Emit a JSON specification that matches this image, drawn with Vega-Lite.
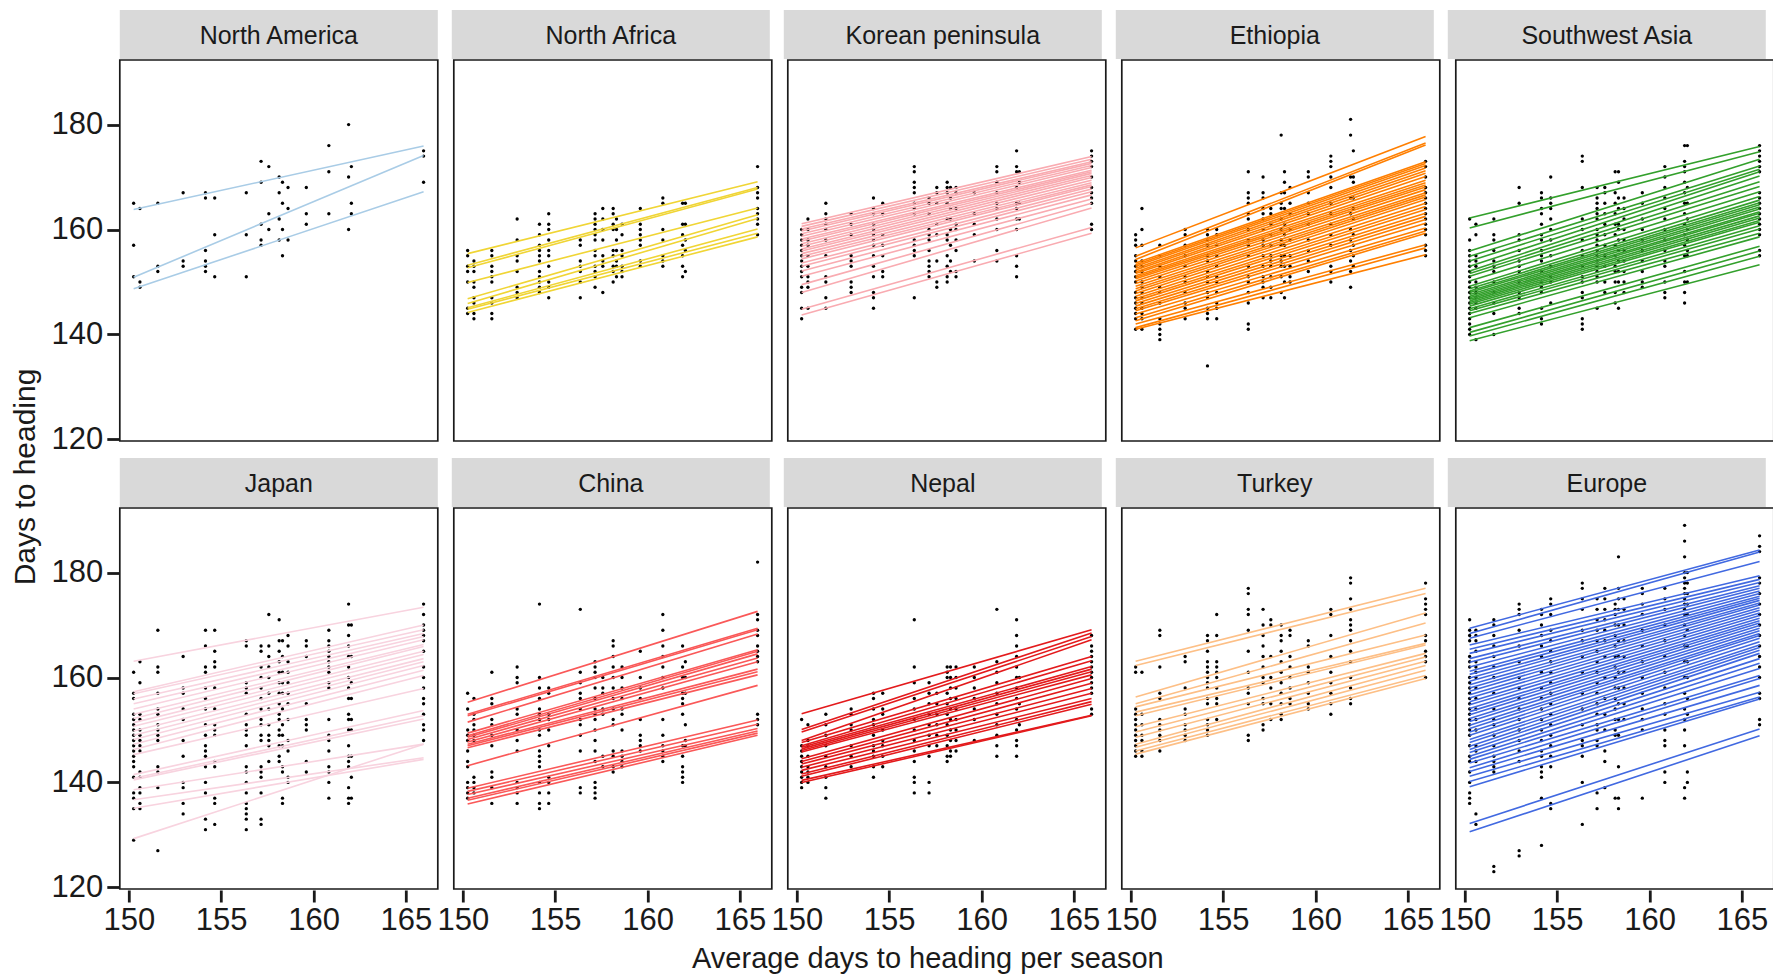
{
"$schema":"https://vega.github.io/schema/vega-lite/v6.json",
"background":"white",
"padding":{"left":10.8,"top":10,"right":0,"bottom":0},
"title":{"text":"Days to heading","orient":"left","anchor":"middle","fontSize":30,"fontWeight":"normal","font":"Liberation Sans","color":"#1a1a1a","offset":10,"dx":15},
"datasets":{
"s":[{"r":"NA","n":"North America"},{"r":"NF","n":"North Africa"},{"r":"KP","n":"Korean peninsula"},{"r":"ET","n":"Ethiopia"},{"r":"SW","n":"Southwest Asia"},{"r":"JP","n":"Japan"},{"r":"CN","n":"China"},{"r":"NP","n":"Nepal"},{"r":"TR","n":"Turkey"},{"r":"EU","n":"Europe"}],
"d":[
{"r":"NA","x":150.26,"y":165},{"r":"NA","x":150.26,"y":157},{"r":"NA","x":150.26,"y":151},
{"r":"NA","x":150.6,"y":164},{"r":"NA","x":150.6,"y":150},{"r":"NA","x":150.6,"y":149},
{"r":"NA","x":151.57,"y":165},{"r":"NA","x":151.57,"y":153},{"r":"NA","x":151.57,"y":152},
{"r":"NA","x":152.94,"y":167},{"r":"NA","x":152.94,"y":154},{"r":"NA","x":152.94,"y":153},
{"r":"NA","x":154.15,"y":167},{"r":"NA","x":154.15,"y":166},{"r":"NA","x":154.15,"y":156},{"r":"NA","x":154.15,"y":154},{"r":"NA","x":154.15,"y":153},{"r":"NA","x":154.15,"y":152},
{"r":"NA","x":154.65,"y":166},{"r":"NA","x":154.65,"y":159},{"r":"NA","x":154.65,"y":151},
{"r":"NA","x":156.36,"y":167},{"r":"NA","x":156.36,"y":159},{"r":"NA","x":156.36,"y":151},
{"r":"NA","x":157.16,"y":173},{"r":"NA","x":157.16,"y":169},{"r":"NA","x":157.16,"y":161},{"r":"NA","x":157.16,"y":158},{"r":"NA","x":157.16,"y":157},
{"r":"NA","x":157.58,"y":172},{"r":"NA","x":157.58,"y":163},{"r":"NA","x":157.58,"y":160},
{"r":"NA","x":158.14,"y":170},{"r":"NA","x":158.14,"y":167},{"r":"NA","x":158.14,"y":162},{"r":"NA","x":158.14,"y":158},
{"r":"NA","x":158.32,"y":169},{"r":"NA","x":158.32,"y":165},{"r":"NA","x":158.32,"y":160},{"r":"NA","x":158.32,"y":155},
{"r":"NA","x":158.62,"y":168},{"r":"NA","x":158.62,"y":164},{"r":"NA","x":158.62,"y":158},
{"r":"NA","x":159.61,"y":168},{"r":"NA","x":159.61,"y":163},{"r":"NA","x":159.61,"y":161},
{"r":"NA","x":160.83,"y":176},{"r":"NA","x":160.83,"y":171},{"r":"NA","x":160.83,"y":163},
{"r":"NA","x":161.9,"y":180},{"r":"NA","x":161.9,"y":170},{"r":"NA","x":161.9,"y":160},
{"r":"NA","x":162.05,"y":172},{"r":"NA","x":162.05,"y":165},{"r":"NA","x":162.05,"y":163},
{"r":"NA","x":165.96,"y":175},{"r":"NA","x":165.96,"y":174},{"r":"NA","x":165.96,"y":169},
{"r":"NF","x":150.26,"y":156},{"r":"NF","x":150.26,"y":155},{"r":"NF","x":150.26,"y":153},{"r":"NF","x":150.26,"y":152},{"r":"NF","x":150.26,"y":150},{"r":"NF","x":150.26,"y":145},{"r":"NF","x":150.26,"y":144},
{"r":"NF","x":150.6,"y":154},{"r":"NF","x":150.6,"y":153},{"r":"NF","x":150.6,"y":152},{"r":"NF","x":150.6,"y":150},{"r":"NF","x":150.6,"y":149},{"r":"NF","x":150.6,"y":147},{"r":"NF","x":150.6,"y":146},{"r":"NF","x":150.6,"y":144},{"r":"NF","x":150.6,"y":143},
{"r":"NF","x":151.57,"y":156},{"r":"NF","x":151.57,"y":155},{"r":"NF","x":151.57,"y":153},{"r":"NF","x":151.57,"y":152},{"r":"NF","x":151.57,"y":151},{"r":"NF","x":151.57,"y":150},{"r":"NF","x":151.57,"y":147},{"r":"NF","x":151.57,"y":146},{"r":"NF","x":151.57,"y":144},{"r":"NF","x":151.57,"y":143},
{"r":"NF","x":152.94,"y":162},{"r":"NF","x":152.94,"y":158},{"r":"NF","x":152.94,"y":155},{"r":"NF","x":152.94,"y":154},{"r":"NF","x":152.94,"y":152},{"r":"NF","x":152.94,"y":149},{"r":"NF","x":152.94,"y":148},{"r":"NF","x":152.94,"y":147},
{"r":"NF","x":154.15,"y":161},{"r":"NF","x":154.15,"y":159},{"r":"NF","x":154.15,"y":157},{"r":"NF","x":154.15,"y":156},{"r":"NF","x":154.15,"y":155},{"r":"NF","x":154.15,"y":154},{"r":"NF","x":154.15,"y":152},{"r":"NF","x":154.15,"y":151},{"r":"NF","x":154.15,"y":150},{"r":"NF","x":154.15,"y":149},{"r":"NF","x":154.15,"y":148},
{"r":"NF","x":154.65,"y":163},{"r":"NF","x":154.65,"y":161},{"r":"NF","x":154.65,"y":160},{"r":"NF","x":154.65,"y":158},{"r":"NF","x":154.65,"y":156},{"r":"NF","x":154.65,"y":155},{"r":"NF","x":154.65,"y":153},{"r":"NF","x":154.65,"y":150},{"r":"NF","x":154.65,"y":149},{"r":"NF","x":154.65,"y":147},
{"r":"NF","x":156.36,"y":158},{"r":"NF","x":156.36,"y":157},{"r":"NF","x":156.36,"y":154},{"r":"NF","x":156.36,"y":153},{"r":"NF","x":156.36,"y":152},{"r":"NF","x":156.36,"y":150},{"r":"NF","x":156.36,"y":147},
{"r":"NF","x":157.16,"y":163},{"r":"NF","x":157.16,"y":162},{"r":"NF","x":157.16,"y":161},{"r":"NF","x":157.16,"y":160},{"r":"NF","x":157.16,"y":159},{"r":"NF","x":157.16,"y":158},{"r":"NF","x":157.16,"y":156},{"r":"NF","x":157.16,"y":155},{"r":"NF","x":157.16,"y":153},{"r":"NF","x":157.16,"y":152},{"r":"NF","x":157.16,"y":151},{"r":"NF","x":157.16,"y":149},
{"r":"NF","x":157.58,"y":164},{"r":"NF","x":157.58,"y":162},{"r":"NF","x":157.58,"y":160},{"r":"NF","x":157.58,"y":158},{"r":"NF","x":157.58,"y":155},{"r":"NF","x":157.58,"y":154},{"r":"NF","x":157.58,"y":153},{"r":"NF","x":157.58,"y":148},
{"r":"NF","x":158.14,"y":164},{"r":"NF","x":158.14,"y":163},{"r":"NF","x":158.14,"y":161},{"r":"NF","x":158.14,"y":160},{"r":"NF","x":158.14,"y":156},{"r":"NF","x":158.14,"y":155},{"r":"NF","x":158.14,"y":153},{"r":"NF","x":158.14,"y":152},{"r":"NF","x":158.14,"y":150},
{"r":"NF","x":158.32,"y":162},{"r":"NF","x":158.32,"y":160},{"r":"NF","x":158.32,"y":158},{"r":"NF","x":158.32,"y":156},{"r":"NF","x":158.32,"y":154},{"r":"NF","x":158.32,"y":153},{"r":"NF","x":158.32,"y":151},
{"r":"NF","x":158.62,"y":161},{"r":"NF","x":158.62,"y":159},{"r":"NF","x":158.62,"y":156},{"r":"NF","x":158.62,"y":155},{"r":"NF","x":158.62,"y":153},{"r":"NF","x":158.62,"y":152},{"r":"NF","x":158.62,"y":151},
{"r":"NF","x":159.61,"y":164},{"r":"NF","x":159.61,"y":161},{"r":"NF","x":159.61,"y":160},{"r":"NF","x":159.61,"y":159},{"r":"NF","x":159.61,"y":158},{"r":"NF","x":159.61,"y":157},{"r":"NF","x":159.61,"y":154},{"r":"NF","x":159.61,"y":153},
{"r":"NF","x":160.83,"y":166},{"r":"NF","x":160.83,"y":165},{"r":"NF","x":160.83,"y":160},{"r":"NF","x":160.83,"y":158},{"r":"NF","x":160.83,"y":155},{"r":"NF","x":160.83,"y":154},{"r":"NF","x":160.83,"y":153},
{"r":"NF","x":161.9,"y":165},{"r":"NF","x":161.9,"y":161},{"r":"NF","x":161.9,"y":159},{"r":"NF","x":161.9,"y":157},{"r":"NF","x":161.9,"y":155},{"r":"NF","x":161.9,"y":153},{"r":"NF","x":161.9,"y":151},
{"r":"NF","x":162.05,"y":165},{"r":"NF","x":162.05,"y":161},{"r":"NF","x":162.05,"y":158},{"r":"NF","x":162.05,"y":156},{"r":"NF","x":162.05,"y":152},
{"r":"NF","x":165.96,"y":172},{"r":"NF","x":165.96,"y":168},{"r":"NF","x":165.96,"y":167},{"r":"NF","x":165.96,"y":166},{"r":"NF","x":165.96,"y":164},{"r":"NF","x":165.96,"y":163},{"r":"NF","x":165.96,"y":162},{"r":"NF","x":165.96,"y":161},{"r":"NF","x":165.96,"y":159},
{"r":"KP","x":150.26,"y":160},{"r":"KP","x":150.26,"y":159},{"r":"KP","x":150.26,"y":158},{"r":"KP","x":150.26,"y":157},{"r":"KP","x":150.26,"y":156},{"r":"KP","x":150.26,"y":155},{"r":"KP","x":150.26,"y":154},{"r":"KP","x":150.26,"y":153},{"r":"KP","x":150.26,"y":152},{"r":"KP","x":150.26,"y":151},{"r":"KP","x":150.26,"y":149},{"r":"KP","x":150.26,"y":148},{"r":"KP","x":150.26,"y":145},{"r":"KP","x":150.26,"y":143},
{"r":"KP","x":150.6,"y":162},{"r":"KP","x":150.6,"y":160},{"r":"KP","x":150.6,"y":158},{"r":"KP","x":150.6,"y":157},{"r":"KP","x":150.6,"y":155},{"r":"KP","x":150.6,"y":153},{"r":"KP","x":150.6,"y":151},{"r":"KP","x":150.6,"y":150},{"r":"KP","x":150.6,"y":149},{"r":"KP","x":150.6,"y":145},
{"r":"KP","x":151.57,"y":165},{"r":"KP","x":151.57,"y":163},{"r":"KP","x":151.57,"y":162},{"r":"KP","x":151.57,"y":161},{"r":"KP","x":151.57,"y":160},{"r":"KP","x":151.57,"y":158},{"r":"KP","x":151.57,"y":155},{"r":"KP","x":151.57,"y":151},{"r":"KP","x":151.57,"y":150},{"r":"KP","x":151.57,"y":147},{"r":"KP","x":151.57,"y":145},
{"r":"KP","x":152.94,"y":163},{"r":"KP","x":152.94,"y":161},{"r":"KP","x":152.94,"y":159},{"r":"KP","x":152.94,"y":155},{"r":"KP","x":152.94,"y":154},{"r":"KP","x":152.94,"y":153},{"r":"KP","x":152.94,"y":150},{"r":"KP","x":152.94,"y":149},{"r":"KP","x":152.94,"y":148},
{"r":"KP","x":154.15,"y":166},{"r":"KP","x":154.15,"y":164},{"r":"KP","x":154.15,"y":163},{"r":"KP","x":154.15,"y":161},{"r":"KP","x":154.15,"y":160},{"r":"KP","x":154.15,"y":159},{"r":"KP","x":154.15,"y":158},{"r":"KP","x":154.15,"y":157},{"r":"KP","x":154.15,"y":155},{"r":"KP","x":154.15,"y":153},{"r":"KP","x":154.15,"y":151},{"r":"KP","x":154.15,"y":148},{"r":"KP","x":154.15,"y":147},{"r":"KP","x":154.15,"y":145},
{"r":"KP","x":154.65,"y":165},{"r":"KP","x":154.65,"y":163},{"r":"KP","x":154.65,"y":159},{"r":"KP","x":154.65,"y":157},{"r":"KP","x":154.65,"y":155},{"r":"KP","x":154.65,"y":152},{"r":"KP","x":154.65,"y":151},
{"r":"KP","x":156.36,"y":172},{"r":"KP","x":156.36,"y":171},{"r":"KP","x":156.36,"y":169},{"r":"KP","x":156.36,"y":168},{"r":"KP","x":156.36,"y":167},{"r":"KP","x":156.36,"y":165},{"r":"KP","x":156.36,"y":164},{"r":"KP","x":156.36,"y":163},{"r":"KP","x":156.36,"y":158},{"r":"KP","x":156.36,"y":157},{"r":"KP","x":156.36,"y":156},{"r":"KP","x":156.36,"y":155},{"r":"KP","x":156.36,"y":147},
{"r":"KP","x":157.16,"y":166},{"r":"KP","x":157.16,"y":165},{"r":"KP","x":157.16,"y":163},{"r":"KP","x":157.16,"y":160},{"r":"KP","x":157.16,"y":159},{"r":"KP","x":157.16,"y":158},{"r":"KP","x":157.16,"y":156},{"r":"KP","x":157.16,"y":154},{"r":"KP","x":157.16,"y":153},{"r":"KP","x":157.16,"y":152},{"r":"KP","x":157.16,"y":151},
{"r":"KP","x":157.58,"y":168},{"r":"KP","x":157.58,"y":167},{"r":"KP","x":157.58,"y":165},{"r":"KP","x":157.58,"y":161},{"r":"KP","x":157.58,"y":159},{"r":"KP","x":157.58,"y":154},{"r":"KP","x":157.58,"y":150},{"r":"KP","x":157.58,"y":149},
{"r":"KP","x":158.14,"y":169},{"r":"KP","x":158.14,"y":168},{"r":"KP","x":158.14,"y":167},{"r":"KP","x":158.14,"y":165},{"r":"KP","x":158.14,"y":162},{"r":"KP","x":158.14,"y":159},{"r":"KP","x":158.14,"y":158},{"r":"KP","x":158.14,"y":155},{"r":"KP","x":158.14,"y":153},{"r":"KP","x":158.14,"y":151},{"r":"KP","x":158.14,"y":150},
{"r":"KP","x":158.32,"y":168},{"r":"KP","x":158.32,"y":166},{"r":"KP","x":158.32,"y":164},{"r":"KP","x":158.32,"y":162},{"r":"KP","x":158.32,"y":160},{"r":"KP","x":158.32,"y":157},{"r":"KP","x":158.32,"y":154},{"r":"KP","x":158.32,"y":152},
{"r":"KP","x":158.62,"y":168},{"r":"KP","x":158.62,"y":167},{"r":"KP","x":158.62,"y":164},{"r":"KP","x":158.62,"y":161},{"r":"KP","x":158.62,"y":160},{"r":"KP","x":158.62,"y":158},{"r":"KP","x":158.62,"y":156},{"r":"KP","x":158.62,"y":152},{"r":"KP","x":158.62,"y":151},
{"r":"KP","x":159.61,"y":167},{"r":"KP","x":159.61,"y":163},{"r":"KP","x":159.61,"y":161},{"r":"KP","x":159.61,"y":159},{"r":"KP","x":159.61,"y":154},
{"r":"KP","x":160.83,"y":172},{"r":"KP","x":160.83,"y":171},{"r":"KP","x":160.83,"y":169},{"r":"KP","x":160.83,"y":167},{"r":"KP","x":160.83,"y":165},{"r":"KP","x":160.83,"y":164},{"r":"KP","x":160.83,"y":162},{"r":"KP","x":160.83,"y":160},{"r":"KP","x":160.83,"y":156},{"r":"KP","x":160.83,"y":154},
{"r":"KP","x":161.9,"y":175},{"r":"KP","x":161.9,"y":172},{"r":"KP","x":161.9,"y":171},{"r":"KP","x":161.9,"y":168},{"r":"KP","x":161.9,"y":165},{"r":"KP","x":161.9,"y":164},{"r":"KP","x":161.9,"y":162},{"r":"KP","x":161.9,"y":160},{"r":"KP","x":161.9,"y":155},{"r":"KP","x":161.9,"y":153},{"r":"KP","x":161.9,"y":151},
{"r":"KP","x":162.05,"y":171},{"r":"KP","x":162.05,"y":169},{"r":"KP","x":162.05,"y":165},{"r":"KP","x":162.05,"y":162},
{"r":"KP","x":165.96,"y":175},{"r":"KP","x":165.96,"y":174},{"r":"KP","x":165.96,"y":173},{"r":"KP","x":165.96,"y":172},{"r":"KP","x":165.96,"y":170},{"r":"KP","x":165.96,"y":168},{"r":"KP","x":165.96,"y":167},{"r":"KP","x":165.96,"y":166},{"r":"KP","x":165.96,"y":165},{"r":"KP","x":165.96,"y":161},{"r":"KP","x":165.96,"y":160},
{"r":"ET","x":150.26,"y":159},{"r":"ET","x":150.26,"y":158},{"r":"ET","x":150.26,"y":157},{"r":"ET","x":150.26,"y":155},{"r":"ET","x":150.26,"y":154},{"r":"ET","x":150.26,"y":153},{"r":"ET","x":150.26,"y":152},{"r":"ET","x":150.26,"y":151},{"r":"ET","x":150.26,"y":150},{"r":"ET","x":150.26,"y":148},{"r":"ET","x":150.26,"y":147},{"r":"ET","x":150.26,"y":146},{"r":"ET","x":150.26,"y":145},{"r":"ET","x":150.26,"y":144},{"r":"ET","x":150.26,"y":143},{"r":"ET","x":150.26,"y":141},
{"r":"ET","x":150.6,"y":164},{"r":"ET","x":150.6,"y":160},{"r":"ET","x":150.6,"y":157},{"r":"ET","x":150.6,"y":154},{"r":"ET","x":150.6,"y":153},{"r":"ET","x":150.6,"y":152},{"r":"ET","x":150.6,"y":150},{"r":"ET","x":150.6,"y":149},{"r":"ET","x":150.6,"y":148},{"r":"ET","x":150.6,"y":147},{"r":"ET","x":150.6,"y":146},{"r":"ET","x":150.6,"y":145},{"r":"ET","x":150.6,"y":144},{"r":"ET","x":150.6,"y":143},{"r":"ET","x":150.6,"y":141},
{"r":"ET","x":151.57,"y":157},{"r":"ET","x":151.57,"y":155},{"r":"ET","x":151.57,"y":153},{"r":"ET","x":151.57,"y":151},{"r":"ET","x":151.57,"y":149},{"r":"ET","x":151.57,"y":148},{"r":"ET","x":151.57,"y":146},{"r":"ET","x":151.57,"y":143},{"r":"ET","x":151.57,"y":142},{"r":"ET","x":151.57,"y":141},{"r":"ET","x":151.57,"y":140},{"r":"ET","x":151.57,"y":139},
{"r":"ET","x":152.94,"y":160},{"r":"ET","x":152.94,"y":159},{"r":"ET","x":152.94,"y":157},{"r":"ET","x":152.94,"y":155},{"r":"ET","x":152.94,"y":153},{"r":"ET","x":152.94,"y":151},{"r":"ET","x":152.94,"y":150},{"r":"ET","x":152.94,"y":148},{"r":"ET","x":152.94,"y":146},{"r":"ET","x":152.94,"y":145},{"r":"ET","x":152.94,"y":143},
{"r":"ET","x":154.15,"y":160},{"r":"ET","x":154.15,"y":159},{"r":"ET","x":154.15,"y":158},{"r":"ET","x":154.15,"y":157},{"r":"ET","x":154.15,"y":155},{"r":"ET","x":154.15,"y":154},{"r":"ET","x":154.15,"y":152},{"r":"ET","x":154.15,"y":151},{"r":"ET","x":154.15,"y":150},{"r":"ET","x":154.15,"y":148},{"r":"ET","x":154.15,"y":147},{"r":"ET","x":154.15,"y":145},{"r":"ET","x":154.15,"y":144},{"r":"ET","x":154.15,"y":143},{"r":"ET","x":154.15,"y":134},
{"r":"ET","x":154.65,"y":160},{"r":"ET","x":154.65,"y":159},{"r":"ET","x":154.65,"y":157},{"r":"ET","x":154.65,"y":155},{"r":"ET","x":154.65,"y":153},{"r":"ET","x":154.65,"y":151},{"r":"ET","x":154.65,"y":150},{"r":"ET","x":154.65,"y":148},{"r":"ET","x":154.65,"y":146},{"r":"ET","x":154.65,"y":145},{"r":"ET","x":154.65,"y":143},
{"r":"ET","x":156.36,"y":171},{"r":"ET","x":156.36,"y":167},{"r":"ET","x":156.36,"y":166},{"r":"ET","x":156.36,"y":165},{"r":"ET","x":156.36,"y":163},{"r":"ET","x":156.36,"y":162},{"r":"ET","x":156.36,"y":160},{"r":"ET","x":156.36,"y":158},{"r":"ET","x":156.36,"y":157},{"r":"ET","x":156.36,"y":155},{"r":"ET","x":156.36,"y":153},{"r":"ET","x":156.36,"y":151},{"r":"ET","x":156.36,"y":150},{"r":"ET","x":156.36,"y":148},{"r":"ET","x":156.36,"y":146},{"r":"ET","x":156.36,"y":142},{"r":"ET","x":156.36,"y":141},
{"r":"ET","x":157.16,"y":170},{"r":"ET","x":157.16,"y":167},{"r":"ET","x":157.16,"y":166},{"r":"ET","x":157.16,"y":164},{"r":"ET","x":157.16,"y":163},{"r":"ET","x":157.16,"y":162},{"r":"ET","x":157.16,"y":160},{"r":"ET","x":157.16,"y":158},{"r":"ET","x":157.16,"y":157},{"r":"ET","x":157.16,"y":155},{"r":"ET","x":157.16,"y":153},{"r":"ET","x":157.16,"y":151},{"r":"ET","x":157.16,"y":150},{"r":"ET","x":157.16,"y":149},{"r":"ET","x":157.16,"y":147},
{"r":"ET","x":157.58,"y":164},{"r":"ET","x":157.58,"y":163},{"r":"ET","x":157.58,"y":161},{"r":"ET","x":157.58,"y":159},{"r":"ET","x":157.58,"y":157},{"r":"ET","x":157.58,"y":155},{"r":"ET","x":157.58,"y":154},{"r":"ET","x":157.58,"y":153},{"r":"ET","x":157.58,"y":151},{"r":"ET","x":157.58,"y":149},{"r":"ET","x":157.58,"y":147},
{"r":"ET","x":158.14,"y":178},{"r":"ET","x":158.14,"y":167},{"r":"ET","x":158.14,"y":165},{"r":"ET","x":158.14,"y":164},{"r":"ET","x":158.14,"y":162},{"r":"ET","x":158.14,"y":160},{"r":"ET","x":158.14,"y":158},{"r":"ET","x":158.14,"y":157},{"r":"ET","x":158.14,"y":155},{"r":"ET","x":158.14,"y":154},{"r":"ET","x":158.14,"y":153},{"r":"ET","x":158.14,"y":151},{"r":"ET","x":158.14,"y":148},
{"r":"ET","x":158.32,"y":171},{"r":"ET","x":158.32,"y":169},{"r":"ET","x":158.32,"y":167},{"r":"ET","x":158.32,"y":164},{"r":"ET","x":158.32,"y":161},{"r":"ET","x":158.32,"y":159},{"r":"ET","x":158.32,"y":157},{"r":"ET","x":158.32,"y":155},{"r":"ET","x":158.32,"y":153},{"r":"ET","x":158.32,"y":150},{"r":"ET","x":158.32,"y":147},
{"r":"ET","x":158.62,"y":168},{"r":"ET","x":158.62,"y":165},{"r":"ET","x":158.62,"y":163},{"r":"ET","x":158.62,"y":160},{"r":"ET","x":158.62,"y":158},{"r":"ET","x":158.62,"y":155},{"r":"ET","x":158.62,"y":153},{"r":"ET","x":158.62,"y":151},{"r":"ET","x":158.62,"y":150},
{"r":"ET","x":159.61,"y":171},{"r":"ET","x":159.61,"y":170},{"r":"ET","x":159.61,"y":167},{"r":"ET","x":159.61,"y":165},{"r":"ET","x":159.61,"y":163},{"r":"ET","x":159.61,"y":161},{"r":"ET","x":159.61,"y":158},{"r":"ET","x":159.61,"y":156},{"r":"ET","x":159.61,"y":154},{"r":"ET","x":159.61,"y":152},
{"r":"ET","x":160.83,"y":174},{"r":"ET","x":160.83,"y":173},{"r":"ET","x":160.83,"y":172},{"r":"ET","x":160.83,"y":170},{"r":"ET","x":160.83,"y":168},{"r":"ET","x":160.83,"y":165},{"r":"ET","x":160.83,"y":163},{"r":"ET","x":160.83,"y":161},{"r":"ET","x":160.83,"y":159},{"r":"ET","x":160.83,"y":157},{"r":"ET","x":160.83,"y":153},{"r":"ET","x":160.83,"y":152},{"r":"ET","x":160.83,"y":150},
{"r":"ET","x":161.9,"y":181},{"r":"ET","x":161.9,"y":178},{"r":"ET","x":161.9,"y":170},{"r":"ET","x":161.9,"y":166},{"r":"ET","x":161.9,"y":163},{"r":"ET","x":161.9,"y":160},{"r":"ET","x":161.9,"y":158},{"r":"ET","x":161.9,"y":156},{"r":"ET","x":161.9,"y":154},{"r":"ET","x":161.9,"y":152},{"r":"ET","x":161.9,"y":149},
{"r":"ET","x":162.05,"y":175},{"r":"ET","x":162.05,"y":170},{"r":"ET","x":162.05,"y":169},{"r":"ET","x":162.05,"y":166},{"r":"ET","x":162.05,"y":164},{"r":"ET","x":162.05,"y":162},{"r":"ET","x":162.05,"y":159},{"r":"ET","x":162.05,"y":157},{"r":"ET","x":162.05,"y":155},{"r":"ET","x":162.05,"y":153},
{"r":"ET","x":165.96,"y":173},{"r":"ET","x":165.96,"y":172},{"r":"ET","x":165.96,"y":170},{"r":"ET","x":165.96,"y":168},{"r":"ET","x":165.96,"y":167},{"r":"ET","x":165.96,"y":166},{"r":"ET","x":165.96,"y":165},{"r":"ET","x":165.96,"y":164},{"r":"ET","x":165.96,"y":163},{"r":"ET","x":165.96,"y":162},{"r":"ET","x":165.96,"y":161},{"r":"ET","x":165.96,"y":160},{"r":"ET","x":165.96,"y":159},{"r":"ET","x":165.96,"y":157},{"r":"ET","x":165.96,"y":156},{"r":"ET","x":165.96,"y":155},
{"r":"SW","x":150.26,"y":162},{"r":"SW","x":150.26,"y":158},{"r":"SW","x":150.26,"y":156},{"r":"SW","x":150.26,"y":155},{"r":"SW","x":150.26,"y":154},{"r":"SW","x":150.26,"y":153},{"r":"SW","x":150.26,"y":152},{"r":"SW","x":150.26,"y":151},{"r":"SW","x":150.26,"y":150},{"r":"SW","x":150.26,"y":149},{"r":"SW","x":150.26,"y":148},{"r":"SW","x":150.26,"y":147},{"r":"SW","x":150.26,"y":146},{"r":"SW","x":150.26,"y":145},{"r":"SW","x":150.26,"y":144},{"r":"SW","x":150.26,"y":143},{"r":"SW","x":150.26,"y":142},{"r":"SW","x":150.26,"y":141},{"r":"SW","x":150.26,"y":140},
{"r":"SW","x":150.6,"y":161},{"r":"SW","x":150.6,"y":159},{"r":"SW","x":150.6,"y":155},{"r":"SW","x":150.6,"y":154},{"r":"SW","x":150.6,"y":153},{"r":"SW","x":150.6,"y":150},{"r":"SW","x":150.6,"y":149},{"r":"SW","x":150.6,"y":148},{"r":"SW","x":150.6,"y":147},{"r":"SW","x":150.6,"y":146},{"r":"SW","x":150.6,"y":145},{"r":"SW","x":150.6,"y":139},
{"r":"SW","x":151.57,"y":162},{"r":"SW","x":151.57,"y":159},{"r":"SW","x":151.57,"y":158},{"r":"SW","x":151.57,"y":156},{"r":"SW","x":151.57,"y":154},{"r":"SW","x":151.57,"y":153},{"r":"SW","x":151.57,"y":152},{"r":"SW","x":151.57,"y":150},{"r":"SW","x":151.57,"y":148},{"r":"SW","x":151.57,"y":146},{"r":"SW","x":151.57,"y":144},{"r":"SW","x":151.57,"y":140},
{"r":"SW","x":152.94,"y":168},{"r":"SW","x":152.94,"y":165},{"r":"SW","x":152.94,"y":159},{"r":"SW","x":152.94,"y":158},{"r":"SW","x":152.94,"y":156},{"r":"SW","x":152.94,"y":154},{"r":"SW","x":152.94,"y":153},{"r":"SW","x":152.94,"y":152},{"r":"SW","x":152.94,"y":150},{"r":"SW","x":152.94,"y":148},{"r":"SW","x":152.94,"y":147},{"r":"SW","x":152.94,"y":145},{"r":"SW","x":152.94,"y":144},
{"r":"SW","x":154.15,"y":167},{"r":"SW","x":154.15,"y":166},{"r":"SW","x":154.15,"y":164},{"r":"SW","x":154.15,"y":163},{"r":"SW","x":154.15,"y":161},{"r":"SW","x":154.15,"y":159},{"r":"SW","x":154.15,"y":158},{"r":"SW","x":154.15,"y":156},{"r":"SW","x":154.15,"y":155},{"r":"SW","x":154.15,"y":154},{"r":"SW","x":154.15,"y":152},{"r":"SW","x":154.15,"y":150},{"r":"SW","x":154.15,"y":149},{"r":"SW","x":154.15,"y":148},{"r":"SW","x":154.15,"y":145},{"r":"SW","x":154.15,"y":143},{"r":"SW","x":154.15,"y":142},
{"r":"SW","x":154.65,"y":170},{"r":"SW","x":154.65,"y":166},{"r":"SW","x":154.65,"y":165},{"r":"SW","x":154.65,"y":164},{"r":"SW","x":154.65,"y":162},{"r":"SW","x":154.65,"y":160},{"r":"SW","x":154.65,"y":158},{"r":"SW","x":154.65,"y":155},{"r":"SW","x":154.65,"y":153},{"r":"SW","x":154.65,"y":151},{"r":"SW","x":154.65,"y":150},{"r":"SW","x":154.65,"y":146},
{"r":"SW","x":156.36,"y":174},{"r":"SW","x":156.36,"y":173},{"r":"SW","x":156.36,"y":168},{"r":"SW","x":156.36,"y":162},{"r":"SW","x":156.36,"y":160},{"r":"SW","x":156.36,"y":158},{"r":"SW","x":156.36,"y":156},{"r":"SW","x":156.36,"y":155},{"r":"SW","x":156.36,"y":153},{"r":"SW","x":156.36,"y":151},{"r":"SW","x":156.36,"y":150},{"r":"SW","x":156.36,"y":148},{"r":"SW","x":156.36,"y":147},{"r":"SW","x":156.36,"y":143},{"r":"SW","x":156.36,"y":142},{"r":"SW","x":156.36,"y":141},
{"r":"SW","x":157.16,"y":168},{"r":"SW","x":157.16,"y":166},{"r":"SW","x":157.16,"y":165},{"r":"SW","x":157.16,"y":164},{"r":"SW","x":157.16,"y":163},{"r":"SW","x":157.16,"y":162},{"r":"SW","x":157.16,"y":160},{"r":"SW","x":157.16,"y":159},{"r":"SW","x":157.16,"y":158},{"r":"SW","x":157.16,"y":157},{"r":"SW","x":157.16,"y":156},{"r":"SW","x":157.16,"y":155},{"r":"SW","x":157.16,"y":154},{"r":"SW","x":157.16,"y":153},{"r":"SW","x":157.16,"y":152},{"r":"SW","x":157.16,"y":151},{"r":"SW","x":157.16,"y":150},{"r":"SW","x":157.16,"y":145},
{"r":"SW","x":157.58,"y":168},{"r":"SW","x":157.58,"y":167},{"r":"SW","x":157.58,"y":165},{"r":"SW","x":157.58,"y":163},{"r":"SW","x":157.58,"y":161},{"r":"SW","x":157.58,"y":159},{"r":"SW","x":157.58,"y":157},{"r":"SW","x":157.58,"y":155},{"r":"SW","x":157.58,"y":153},{"r":"SW","x":157.58,"y":150},{"r":"SW","x":157.58,"y":148},
{"r":"SW","x":158.14,"y":171},{"r":"SW","x":158.14,"y":167},{"r":"SW","x":158.14,"y":165},{"r":"SW","x":158.14,"y":163},{"r":"SW","x":158.14,"y":161},{"r":"SW","x":158.14,"y":159},{"r":"SW","x":158.14,"y":157},{"r":"SW","x":158.14,"y":155},{"r":"SW","x":158.14,"y":153},{"r":"SW","x":158.14,"y":152},{"r":"SW","x":158.14,"y":150},{"r":"SW","x":158.14,"y":148},{"r":"SW","x":158.14,"y":146},
{"r":"SW","x":158.32,"y":171},{"r":"SW","x":158.32,"y":169},{"r":"SW","x":158.32,"y":166},{"r":"SW","x":158.32,"y":164},{"r":"SW","x":158.32,"y":161},{"r":"SW","x":158.32,"y":160},{"r":"SW","x":158.32,"y":158},{"r":"SW","x":158.32,"y":156},{"r":"SW","x":158.32,"y":154},{"r":"SW","x":158.32,"y":152},{"r":"SW","x":158.32,"y":150},{"r":"SW","x":158.32,"y":145},
{"r":"SW","x":158.62,"y":166},{"r":"SW","x":158.62,"y":164},{"r":"SW","x":158.62,"y":162},{"r":"SW","x":158.62,"y":160},{"r":"SW","x":158.62,"y":158},{"r":"SW","x":158.62,"y":156},{"r":"SW","x":158.62,"y":154},{"r":"SW","x":158.62,"y":152},{"r":"SW","x":158.62,"y":150},{"r":"SW","x":158.62,"y":148},
{"r":"SW","x":159.61,"y":167},{"r":"SW","x":159.61,"y":165},{"r":"SW","x":159.61,"y":162},{"r":"SW","x":159.61,"y":160},{"r":"SW","x":159.61,"y":158},{"r":"SW","x":159.61,"y":156},{"r":"SW","x":159.61,"y":154},{"r":"SW","x":159.61,"y":152},{"r":"SW","x":159.61,"y":150},{"r":"SW","x":159.61,"y":149},
{"r":"SW","x":160.83,"y":172},{"r":"SW","x":160.83,"y":170},{"r":"SW","x":160.83,"y":168},{"r":"SW","x":160.83,"y":166},{"r":"SW","x":160.83,"y":164},{"r":"SW","x":160.83,"y":162},{"r":"SW","x":160.83,"y":160},{"r":"SW","x":160.83,"y":158},{"r":"SW","x":160.83,"y":156},{"r":"SW","x":160.83,"y":154},{"r":"SW","x":160.83,"y":153},{"r":"SW","x":160.83,"y":150},{"r":"SW","x":160.83,"y":148},{"r":"SW","x":160.83,"y":147},
{"r":"SW","x":161.9,"y":176},{"r":"SW","x":161.9,"y":173},{"r":"SW","x":161.9,"y":172},{"r":"SW","x":161.9,"y":171},{"r":"SW","x":161.9,"y":169},{"r":"SW","x":161.9,"y":167},{"r":"SW","x":161.9,"y":165},{"r":"SW","x":161.9,"y":163},{"r":"SW","x":161.9,"y":161},{"r":"SW","x":161.9,"y":159},{"r":"SW","x":161.9,"y":157},{"r":"SW","x":161.9,"y":155},{"r":"SW","x":161.9,"y":152},{"r":"SW","x":161.9,"y":150},{"r":"SW","x":161.9,"y":148},{"r":"SW","x":161.9,"y":146},
{"r":"SW","x":162.05,"y":176},{"r":"SW","x":162.05,"y":168},{"r":"SW","x":162.05,"y":165},{"r":"SW","x":162.05,"y":162},{"r":"SW","x":162.05,"y":160},{"r":"SW","x":162.05,"y":158},{"r":"SW","x":162.05,"y":156},{"r":"SW","x":162.05,"y":155},{"r":"SW","x":162.05,"y":150},
{"r":"SW","x":165.96,"y":176},{"r":"SW","x":165.96,"y":175},{"r":"SW","x":165.96,"y":174},{"r":"SW","x":165.96,"y":173},{"r":"SW","x":165.96,"y":172},{"r":"SW","x":165.96,"y":171},{"r":"SW","x":165.96,"y":167},{"r":"SW","x":165.96,"y":166},{"r":"SW","x":165.96,"y":165},{"r":"SW","x":165.96,"y":164},{"r":"SW","x":165.96,"y":163},{"r":"SW","x":165.96,"y":162},{"r":"SW","x":165.96,"y":161},{"r":"SW","x":165.96,"y":160},{"r":"SW","x":165.96,"y":159},{"r":"SW","x":165.96,"y":156},{"r":"SW","x":165.96,"y":155},
{"r":"JP","x":150.26,"y":161},{"r":"JP","x":150.26,"y":157},{"r":"JP","x":150.26,"y":156},{"r":"JP","x":150.26,"y":153},{"r":"JP","x":150.26,"y":152},{"r":"JP","x":150.26,"y":151},{"r":"JP","x":150.26,"y":150},{"r":"JP","x":150.26,"y":149},{"r":"JP","x":150.26,"y":148},{"r":"JP","x":150.26,"y":147},{"r":"JP","x":150.26,"y":146},{"r":"JP","x":150.26,"y":145},{"r":"JP","x":150.26,"y":144},{"r":"JP","x":150.26,"y":143},{"r":"JP","x":150.26,"y":141},{"r":"JP","x":150.26,"y":138},{"r":"JP","x":150.26,"y":137},{"r":"JP","x":150.26,"y":135},{"r":"JP","x":150.26,"y":129},
{"r":"JP","x":150.6,"y":163},{"r":"JP","x":150.6,"y":159},{"r":"JP","x":150.6,"y":153},{"r":"JP","x":150.6,"y":152},{"r":"JP","x":150.6,"y":150},{"r":"JP","x":150.6,"y":149},{"r":"JP","x":150.6,"y":148},{"r":"JP","x":150.6,"y":147},{"r":"JP","x":150.6,"y":146},{"r":"JP","x":150.6,"y":142},{"r":"JP","x":150.6,"y":141},{"r":"JP","x":150.6,"y":139},{"r":"JP","x":150.6,"y":138},{"r":"JP","x":150.6,"y":136},{"r":"JP","x":150.6,"y":135},
{"r":"JP","x":151.57,"y":169},{"r":"JP","x":151.57,"y":162},{"r":"JP","x":151.57,"y":161},{"r":"JP","x":151.57,"y":157},{"r":"JP","x":151.57,"y":154},{"r":"JP","x":151.57,"y":153},{"r":"JP","x":151.57,"y":151},{"r":"JP","x":151.57,"y":150},{"r":"JP","x":151.57,"y":149},{"r":"JP","x":151.57,"y":148},{"r":"JP","x":151.57,"y":143},{"r":"JP","x":151.57,"y":142},{"r":"JP","x":151.57,"y":139},{"r":"JP","x":151.57,"y":127},
{"r":"JP","x":152.94,"y":164},{"r":"JP","x":152.94,"y":158},{"r":"JP","x":152.94,"y":157},{"r":"JP","x":152.94,"y":154},{"r":"JP","x":152.94,"y":152},{"r":"JP","x":152.94,"y":148},{"r":"JP","x":152.94,"y":145},{"r":"JP","x":152.94,"y":140},{"r":"JP","x":152.94,"y":139},{"r":"JP","x":152.94,"y":136},{"r":"JP","x":152.94,"y":134},
{"r":"JP","x":154.15,"y":169},{"r":"JP","x":154.15,"y":166},{"r":"JP","x":154.15,"y":162},{"r":"JP","x":154.15,"y":161},{"r":"JP","x":154.15,"y":158},{"r":"JP","x":154.15,"y":156},{"r":"JP","x":154.15,"y":154},{"r":"JP","x":154.15,"y":151},{"r":"JP","x":154.15,"y":149},{"r":"JP","x":154.15,"y":147},{"r":"JP","x":154.15,"y":146},{"r":"JP","x":154.15,"y":145},{"r":"JP","x":154.15,"y":143},{"r":"JP","x":154.15,"y":140},{"r":"JP","x":154.15,"y":138},{"r":"JP","x":154.15,"y":133},{"r":"JP","x":154.15,"y":131},
{"r":"JP","x":154.65,"y":169},{"r":"JP","x":154.65,"y":165},{"r":"JP","x":154.65,"y":163},{"r":"JP","x":154.65,"y":162},{"r":"JP","x":154.65,"y":158},{"r":"JP","x":154.65,"y":154},{"r":"JP","x":154.65,"y":151},{"r":"JP","x":154.65,"y":150},{"r":"JP","x":154.65,"y":149},{"r":"JP","x":154.65,"y":144},{"r":"JP","x":154.65,"y":143},{"r":"JP","x":154.65,"y":137},{"r":"JP","x":154.65,"y":136},{"r":"JP","x":154.65,"y":132},
{"r":"JP","x":156.36,"y":167},{"r":"JP","x":156.36,"y":166},{"r":"JP","x":156.36,"y":159},{"r":"JP","x":156.36,"y":158},{"r":"JP","x":156.36,"y":157},{"r":"JP","x":156.36,"y":153},{"r":"JP","x":156.36,"y":151},{"r":"JP","x":156.36,"y":150},{"r":"JP","x":156.36,"y":149},{"r":"JP","x":156.36,"y":147},{"r":"JP","x":156.36,"y":143},{"r":"JP","x":156.36,"y":142},{"r":"JP","x":156.36,"y":140},{"r":"JP","x":156.36,"y":138},{"r":"JP","x":156.36,"y":136},{"r":"JP","x":156.36,"y":135},{"r":"JP","x":156.36,"y":134},{"r":"JP","x":156.36,"y":133},{"r":"JP","x":156.36,"y":131},
{"r":"JP","x":157.16,"y":166},{"r":"JP","x":157.16,"y":165},{"r":"JP","x":157.16,"y":162},{"r":"JP","x":157.16,"y":160},{"r":"JP","x":157.16,"y":158},{"r":"JP","x":157.16,"y":156},{"r":"JP","x":157.16,"y":154},{"r":"JP","x":157.16,"y":152},{"r":"JP","x":157.16,"y":151},{"r":"JP","x":157.16,"y":149},{"r":"JP","x":157.16,"y":148},{"r":"JP","x":157.16,"y":143},{"r":"JP","x":157.16,"y":142},{"r":"JP","x":157.16,"y":141},{"r":"JP","x":157.16,"y":138},{"r":"JP","x":157.16,"y":133},{"r":"JP","x":157.16,"y":132},
{"r":"JP","x":157.58,"y":172},{"r":"JP","x":157.58,"y":166},{"r":"JP","x":157.58,"y":164},{"r":"JP","x":157.58,"y":162},{"r":"JP","x":157.58,"y":160},{"r":"JP","x":157.58,"y":157},{"r":"JP","x":157.58,"y":154},{"r":"JP","x":157.58,"y":151},{"r":"JP","x":157.58,"y":149},{"r":"JP","x":157.58,"y":148},{"r":"JP","x":157.58,"y":147},{"r":"JP","x":157.58,"y":144},
{"r":"JP","x":158.14,"y":171},{"r":"JP","x":158.14,"y":167},{"r":"JP","x":158.14,"y":165},{"r":"JP","x":158.14,"y":163},{"r":"JP","x":158.14,"y":161},{"r":"JP","x":158.14,"y":159},{"r":"JP","x":158.14,"y":157},{"r":"JP","x":158.14,"y":155},{"r":"JP","x":158.14,"y":153},{"r":"JP","x":158.14,"y":152},{"r":"JP","x":158.14,"y":150},{"r":"JP","x":158.14,"y":149},{"r":"JP","x":158.14,"y":147},{"r":"JP","x":158.14,"y":145},{"r":"JP","x":158.14,"y":144},
{"r":"JP","x":158.32,"y":167},{"r":"JP","x":158.32,"y":164},{"r":"JP","x":158.32,"y":161},{"r":"JP","x":158.32,"y":159},{"r":"JP","x":158.32,"y":157},{"r":"JP","x":158.32,"y":154},{"r":"JP","x":158.32,"y":151},{"r":"JP","x":158.32,"y":149},{"r":"JP","x":158.32,"y":147},{"r":"JP","x":158.32,"y":143},{"r":"JP","x":158.32,"y":142},{"r":"JP","x":158.32,"y":137},{"r":"JP","x":158.32,"y":136},
{"r":"JP","x":158.62,"y":168},{"r":"JP","x":158.62,"y":166},{"r":"JP","x":158.62,"y":163},{"r":"JP","x":158.62,"y":161},{"r":"JP","x":158.62,"y":159},{"r":"JP","x":158.62,"y":157},{"r":"JP","x":158.62,"y":155},{"r":"JP","x":158.62,"y":152},{"r":"JP","x":158.62,"y":148},{"r":"JP","x":158.62,"y":146},{"r":"JP","x":158.62,"y":141},{"r":"JP","x":158.62,"y":140},
{"r":"JP","x":159.61,"y":167},{"r":"JP","x":159.61,"y":166},{"r":"JP","x":159.61,"y":164},{"r":"JP","x":159.61,"y":155},{"r":"JP","x":159.61,"y":152},{"r":"JP","x":159.61,"y":151},{"r":"JP","x":159.61,"y":150},{"r":"JP","x":159.61,"y":144},{"r":"JP","x":159.61,"y":142},
{"r":"JP","x":160.83,"y":169},{"r":"JP","x":160.83,"y":167},{"r":"JP","x":160.83,"y":166},{"r":"JP","x":160.83,"y":165},{"r":"JP","x":160.83,"y":164},{"r":"JP","x":160.83,"y":163},{"r":"JP","x":160.83,"y":162},{"r":"JP","x":160.83,"y":161},{"r":"JP","x":160.83,"y":159},{"r":"JP","x":160.83,"y":158},{"r":"JP","x":160.83,"y":152},{"r":"JP","x":160.83,"y":149},{"r":"JP","x":160.83,"y":148},{"r":"JP","x":160.83,"y":146},{"r":"JP","x":160.83,"y":143},{"r":"JP","x":160.83,"y":142},{"r":"JP","x":160.83,"y":140},{"r":"JP","x":160.83,"y":137},
{"r":"JP","x":161.9,"y":174},{"r":"JP","x":161.9,"y":170},{"r":"JP","x":161.9,"y":168},{"r":"JP","x":161.9,"y":166},{"r":"JP","x":161.9,"y":164},{"r":"JP","x":161.9,"y":162},{"r":"JP","x":161.9,"y":160},{"r":"JP","x":161.9,"y":158},{"r":"JP","x":161.9,"y":156},{"r":"JP","x":161.9,"y":153},{"r":"JP","x":161.9,"y":152},{"r":"JP","x":161.9,"y":150},{"r":"JP","x":161.9,"y":147},{"r":"JP","x":161.9,"y":145},{"r":"JP","x":161.9,"y":144},{"r":"JP","x":161.9,"y":143},{"r":"JP","x":161.9,"y":139},{"r":"JP","x":161.9,"y":137},{"r":"JP","x":161.9,"y":136},
{"r":"JP","x":162.05,"y":170},{"r":"JP","x":162.05,"y":164},{"r":"JP","x":162.05,"y":159},{"r":"JP","x":162.05,"y":156},{"r":"JP","x":162.05,"y":152},{"r":"JP","x":162.05,"y":150},{"r":"JP","x":162.05,"y":145},{"r":"JP","x":162.05,"y":141},{"r":"JP","x":162.05,"y":137},
{"r":"JP","x":165.96,"y":174},{"r":"JP","x":165.96,"y":172},{"r":"JP","x":165.96,"y":170},{"r":"JP","x":165.96,"y":169},{"r":"JP","x":165.96,"y":168},{"r":"JP","x":165.96,"y":167},{"r":"JP","x":165.96,"y":165},{"r":"JP","x":165.96,"y":162},{"r":"JP","x":165.96,"y":160},{"r":"JP","x":165.96,"y":158},{"r":"JP","x":165.96,"y":156},{"r":"JP","x":165.96,"y":155},{"r":"JP","x":165.96,"y":153},{"r":"JP","x":165.96,"y":151},{"r":"JP","x":165.96,"y":150},{"r":"JP","x":165.96,"y":148},
{"r":"CN","x":150.26,"y":157},{"r":"CN","x":150.26,"y":154},{"r":"CN","x":150.26,"y":150},{"r":"CN","x":150.26,"y":149},{"r":"CN","x":150.26,"y":148},{"r":"CN","x":150.26,"y":146},{"r":"CN","x":150.26,"y":144},{"r":"CN","x":150.26,"y":143},{"r":"CN","x":150.26,"y":140},{"r":"CN","x":150.26,"y":139},{"r":"CN","x":150.26,"y":138},{"r":"CN","x":150.26,"y":137},
{"r":"CN","x":150.6,"y":156},{"r":"CN","x":150.6,"y":153},{"r":"CN","x":150.6,"y":152},{"r":"CN","x":150.6,"y":151},{"r":"CN","x":150.6,"y":150},{"r":"CN","x":150.6,"y":149},{"r":"CN","x":150.6,"y":148},{"r":"CN","x":150.6,"y":141},{"r":"CN","x":150.6,"y":140},{"r":"CN","x":150.6,"y":139},{"r":"CN","x":150.6,"y":138},
{"r":"CN","x":151.57,"y":161},{"r":"CN","x":151.57,"y":156},{"r":"CN","x":151.57,"y":155},{"r":"CN","x":151.57,"y":152},{"r":"CN","x":151.57,"y":151},{"r":"CN","x":151.57,"y":149},{"r":"CN","x":151.57,"y":147},{"r":"CN","x":151.57,"y":142},{"r":"CN","x":151.57,"y":141},{"r":"CN","x":151.57,"y":139},{"r":"CN","x":151.57,"y":136},
{"r":"CN","x":152.94,"y":162},{"r":"CN","x":152.94,"y":160},{"r":"CN","x":152.94,"y":159},{"r":"CN","x":152.94,"y":154},{"r":"CN","x":152.94,"y":153},{"r":"CN","x":152.94,"y":150},{"r":"CN","x":152.94,"y":148},{"r":"CN","x":152.94,"y":146},{"r":"CN","x":152.94,"y":140},{"r":"CN","x":152.94,"y":139},{"r":"CN","x":152.94,"y":138},{"r":"CN","x":152.94,"y":136},
{"r":"CN","x":154.15,"y":174},{"r":"CN","x":154.15,"y":160},{"r":"CN","x":154.15,"y":158},{"r":"CN","x":154.15,"y":156},{"r":"CN","x":154.15,"y":154},{"r":"CN","x":154.15,"y":153},{"r":"CN","x":154.15,"y":152},{"r":"CN","x":154.15,"y":150},{"r":"CN","x":154.15,"y":149},{"r":"CN","x":154.15,"y":146},{"r":"CN","x":154.15,"y":145},{"r":"CN","x":154.15,"y":144},{"r":"CN","x":154.15,"y":143},{"r":"CN","x":154.15,"y":140},{"r":"CN","x":154.15,"y":138},{"r":"CN","x":154.15,"y":136},{"r":"CN","x":154.15,"y":135},
{"r":"CN","x":154.65,"y":158},{"r":"CN","x":154.65,"y":157},{"r":"CN","x":154.65,"y":153},{"r":"CN","x":154.65,"y":152},{"r":"CN","x":154.65,"y":150},{"r":"CN","x":154.65,"y":147},{"r":"CN","x":154.65,"y":141},{"r":"CN","x":154.65,"y":140},{"r":"CN","x":154.65,"y":138},{"r":"CN","x":154.65,"y":136},
{"r":"CN","x":156.36,"y":173},{"r":"CN","x":156.36,"y":161},{"r":"CN","x":156.36,"y":159},{"r":"CN","x":156.36,"y":157},{"r":"CN","x":156.36,"y":156},{"r":"CN","x":156.36,"y":154},{"r":"CN","x":156.36,"y":152},{"r":"CN","x":156.36,"y":151},{"r":"CN","x":156.36,"y":149},{"r":"CN","x":156.36,"y":146},{"r":"CN","x":156.36,"y":139},{"r":"CN","x":156.36,"y":138},
{"r":"CN","x":157.16,"y":163},{"r":"CN","x":157.16,"y":162},{"r":"CN","x":157.16,"y":161},{"r":"CN","x":157.16,"y":160},{"r":"CN","x":157.16,"y":158},{"r":"CN","x":157.16,"y":156},{"r":"CN","x":157.16,"y":154},{"r":"CN","x":157.16,"y":153},{"r":"CN","x":157.16,"y":152},{"r":"CN","x":157.16,"y":150},{"r":"CN","x":157.16,"y":148},{"r":"CN","x":157.16,"y":146},{"r":"CN","x":157.16,"y":144},{"r":"CN","x":157.16,"y":140},{"r":"CN","x":157.16,"y":139},{"r":"CN","x":157.16,"y":138},{"r":"CN","x":157.16,"y":137},
{"r":"CN","x":157.58,"y":160},{"r":"CN","x":157.58,"y":158},{"r":"CN","x":157.58,"y":157},{"r":"CN","x":157.58,"y":154},{"r":"CN","x":157.58,"y":153},{"r":"CN","x":157.58,"y":145},{"r":"CN","x":157.58,"y":143},
{"r":"CN","x":158.14,"y":167},{"r":"CN","x":158.14,"y":166},{"r":"CN","x":158.14,"y":164},{"r":"CN","x":158.14,"y":162},{"r":"CN","x":158.14,"y":160},{"r":"CN","x":158.14,"y":158},{"r":"CN","x":158.14,"y":156},{"r":"CN","x":158.14,"y":154},{"r":"CN","x":158.14,"y":152},{"r":"CN","x":158.14,"y":151},{"r":"CN","x":158.14,"y":146},{"r":"CN","x":158.14,"y":145},{"r":"CN","x":158.14,"y":143},{"r":"CN","x":158.14,"y":142},
{"r":"CN","x":158.62,"y":162},{"r":"CN","x":158.62,"y":160},{"r":"CN","x":158.62,"y":158},{"r":"CN","x":158.62,"y":156},{"r":"CN","x":158.62,"y":154},{"r":"CN","x":158.62,"y":153},{"r":"CN","x":158.62,"y":150},{"r":"CN","x":158.62,"y":146},{"r":"CN","x":158.62,"y":145},{"r":"CN","x":158.62,"y":144},{"r":"CN","x":158.62,"y":143},
{"r":"CN","x":159.61,"y":165},{"r":"CN","x":159.61,"y":160},{"r":"CN","x":159.61,"y":158},{"r":"CN","x":159.61,"y":156},{"r":"CN","x":159.61,"y":152},{"r":"CN","x":159.61,"y":149},{"r":"CN","x":159.61,"y":148},{"r":"CN","x":159.61,"y":147},{"r":"CN","x":159.61,"y":146},
{"r":"CN","x":160.83,"y":172},{"r":"CN","x":160.83,"y":169},{"r":"CN","x":160.83,"y":166},{"r":"CN","x":160.83,"y":164},{"r":"CN","x":160.83,"y":162},{"r":"CN","x":160.83,"y":160},{"r":"CN","x":160.83,"y":158},{"r":"CN","x":160.83,"y":152},{"r":"CN","x":160.83,"y":149},{"r":"CN","x":160.83,"y":147},{"r":"CN","x":160.83,"y":146},{"r":"CN","x":160.83,"y":145},{"r":"CN","x":160.83,"y":144},
{"r":"CN","x":161.9,"y":166},{"r":"CN","x":161.9,"y":162},{"r":"CN","x":161.9,"y":160},{"r":"CN","x":161.9,"y":157},{"r":"CN","x":161.9,"y":156},{"r":"CN","x":161.9,"y":155},{"r":"CN","x":161.9,"y":153},{"r":"CN","x":161.9,"y":147},{"r":"CN","x":161.9,"y":145},{"r":"CN","x":161.9,"y":143},{"r":"CN","x":161.9,"y":142},{"r":"CN","x":161.9,"y":141},{"r":"CN","x":161.9,"y":140},
{"r":"CN","x":162.05,"y":163},{"r":"CN","x":162.05,"y":160},{"r":"CN","x":162.05,"y":157},{"r":"CN","x":162.05,"y":151},{"r":"CN","x":162.05,"y":148},{"r":"CN","x":162.05,"y":147},
{"r":"CN","x":165.96,"y":182},{"r":"CN","x":165.96,"y":172},{"r":"CN","x":165.96,"y":171},{"r":"CN","x":165.96,"y":169},{"r":"CN","x":165.96,"y":168},{"r":"CN","x":165.96,"y":166},{"r":"CN","x":165.96,"y":165},{"r":"CN","x":165.96,"y":164},{"r":"CN","x":165.96,"y":163},{"r":"CN","x":165.96,"y":153},{"r":"CN","x":165.96,"y":152},{"r":"CN","x":165.96,"y":151},
{"r":"NP","x":150.26,"y":152},{"r":"NP","x":150.26,"y":147},{"r":"NP","x":150.26,"y":146},{"r":"NP","x":150.26,"y":145},{"r":"NP","x":150.26,"y":144},{"r":"NP","x":150.26,"y":143},{"r":"NP","x":150.26,"y":142},{"r":"NP","x":150.26,"y":141},{"r":"NP","x":150.26,"y":140},{"r":"NP","x":150.26,"y":139},
{"r":"NP","x":150.6,"y":151},{"r":"NP","x":150.6,"y":148},{"r":"NP","x":150.6,"y":147},{"r":"NP","x":150.6,"y":145},{"r":"NP","x":150.6,"y":143},{"r":"NP","x":150.6,"y":142},{"r":"NP","x":150.6,"y":141},{"r":"NP","x":150.6,"y":140},
{"r":"NP","x":151.57,"y":153},{"r":"NP","x":151.57,"y":151},{"r":"NP","x":151.57,"y":149},{"r":"NP","x":151.57,"y":147},{"r":"NP","x":151.57,"y":145},{"r":"NP","x":151.57,"y":143},{"r":"NP","x":151.57,"y":141},{"r":"NP","x":151.57,"y":139},{"r":"NP","x":151.57,"y":137},
{"r":"NP","x":152.94,"y":154},{"r":"NP","x":152.94,"y":153},{"r":"NP","x":152.94,"y":151},{"r":"NP","x":152.94,"y":150},{"r":"NP","x":152.94,"y":147},{"r":"NP","x":152.94,"y":145},{"r":"NP","x":152.94,"y":143},
{"r":"NP","x":154.15,"y":157},{"r":"NP","x":154.15,"y":156},{"r":"NP","x":154.15,"y":154},{"r":"NP","x":154.15,"y":152},{"r":"NP","x":154.15,"y":151},{"r":"NP","x":154.15,"y":149},{"r":"NP","x":154.15,"y":147},{"r":"NP","x":154.15,"y":146},{"r":"NP","x":154.15,"y":145},{"r":"NP","x":154.15,"y":143},{"r":"NP","x":154.15,"y":141},
{"r":"NP","x":154.65,"y":157},{"r":"NP","x":154.65,"y":154},{"r":"NP","x":154.65,"y":153},{"r":"NP","x":154.65,"y":150},{"r":"NP","x":154.65,"y":148},{"r":"NP","x":154.65,"y":147},{"r":"NP","x":154.65,"y":145},{"r":"NP","x":154.65,"y":143},
{"r":"NP","x":156.36,"y":171},{"r":"NP","x":156.36,"y":162},{"r":"NP","x":156.36,"y":159},{"r":"NP","x":156.36,"y":156},{"r":"NP","x":156.36,"y":154},{"r":"NP","x":156.36,"y":152},{"r":"NP","x":156.36,"y":150},{"r":"NP","x":156.36,"y":148},{"r":"NP","x":156.36,"y":146},{"r":"NP","x":156.36,"y":144},{"r":"NP","x":156.36,"y":141},{"r":"NP","x":156.36,"y":140},{"r":"NP","x":156.36,"y":138},
{"r":"NP","x":157.16,"y":159},{"r":"NP","x":157.16,"y":157},{"r":"NP","x":157.16,"y":155},{"r":"NP","x":157.16,"y":153},{"r":"NP","x":157.16,"y":151},{"r":"NP","x":157.16,"y":149},{"r":"NP","x":157.16,"y":147},{"r":"NP","x":157.16,"y":145},{"r":"NP","x":157.16,"y":140},{"r":"NP","x":157.16,"y":138},
{"r":"NP","x":157.58,"y":157},{"r":"NP","x":157.58,"y":155},{"r":"NP","x":157.58,"y":153},{"r":"NP","x":157.58,"y":151},{"r":"NP","x":157.58,"y":149},{"r":"NP","x":157.58,"y":147},
{"r":"NP","x":158.14,"y":162},{"r":"NP","x":158.14,"y":161},{"r":"NP","x":158.14,"y":160},{"r":"NP","x":158.14,"y":157},{"r":"NP","x":158.14,"y":155},{"r":"NP","x":158.14,"y":153},{"r":"NP","x":158.14,"y":151},{"r":"NP","x":158.14,"y":149},{"r":"NP","x":158.14,"y":147},{"r":"NP","x":158.14,"y":145},{"r":"NP","x":158.14,"y":144},
{"r":"NP","x":158.32,"y":162},{"r":"NP","x":158.32,"y":160},{"r":"NP","x":158.32,"y":158},{"r":"NP","x":158.32,"y":156},{"r":"NP","x":158.32,"y":154},{"r":"NP","x":158.32,"y":152},{"r":"NP","x":158.32,"y":150},{"r":"NP","x":158.32,"y":148},{"r":"NP","x":158.32,"y":146},{"r":"NP","x":158.32,"y":145},
{"r":"NP","x":158.62,"y":162},{"r":"NP","x":158.62,"y":160},{"r":"NP","x":158.62,"y":158},{"r":"NP","x":158.62,"y":156},{"r":"NP","x":158.62,"y":154},{"r":"NP","x":158.62,"y":152},{"r":"NP","x":158.62,"y":150},{"r":"NP","x":158.62,"y":148},{"r":"NP","x":158.62,"y":146},
{"r":"NP","x":159.61,"y":162},{"r":"NP","x":159.61,"y":160},{"r":"NP","x":159.61,"y":158},{"r":"NP","x":159.61,"y":156},{"r":"NP","x":159.61,"y":154},{"r":"NP","x":159.61,"y":152},{"r":"NP","x":159.61,"y":148},
{"r":"NP","x":160.83,"y":173},{"r":"NP","x":160.83,"y":163},{"r":"NP","x":160.83,"y":161},{"r":"NP","x":160.83,"y":159},{"r":"NP","x":160.83,"y":157},{"r":"NP","x":160.83,"y":155},{"r":"NP","x":160.83,"y":153},{"r":"NP","x":160.83,"y":151},{"r":"NP","x":160.83,"y":149},{"r":"NP","x":160.83,"y":147},{"r":"NP","x":160.83,"y":145},
{"r":"NP","x":161.9,"y":171},{"r":"NP","x":161.9,"y":168},{"r":"NP","x":161.9,"y":166},{"r":"NP","x":161.9,"y":164},{"r":"NP","x":161.9,"y":162},{"r":"NP","x":161.9,"y":160},{"r":"NP","x":161.9,"y":158},{"r":"NP","x":161.9,"y":156},{"r":"NP","x":161.9,"y":154},{"r":"NP","x":161.9,"y":152},{"r":"NP","x":161.9,"y":150},{"r":"NP","x":161.9,"y":148},{"r":"NP","x":161.9,"y":147},{"r":"NP","x":161.9,"y":145},
{"r":"NP","x":162.05,"y":160},{"r":"NP","x":162.05,"y":155},{"r":"NP","x":162.05,"y":151},
{"r":"NP","x":165.96,"y":168},{"r":"NP","x":165.96,"y":166},{"r":"NP","x":165.96,"y":165},{"r":"NP","x":165.96,"y":164},{"r":"NP","x":165.96,"y":163},{"r":"NP","x":165.96,"y":162},{"r":"NP","x":165.96,"y":161},{"r":"NP","x":165.96,"y":160},{"r":"NP","x":165.96,"y":159},{"r":"NP","x":165.96,"y":158},{"r":"NP","x":165.96,"y":157},{"r":"NP","x":165.96,"y":154},{"r":"NP","x":165.96,"y":153},
{"r":"TR","x":150.26,"y":162},{"r":"TR","x":150.26,"y":161},{"r":"TR","x":150.26,"y":154},{"r":"TR","x":150.26,"y":153},{"r":"TR","x":150.26,"y":152},{"r":"TR","x":150.26,"y":151},{"r":"TR","x":150.26,"y":150},{"r":"TR","x":150.26,"y":149},{"r":"TR","x":150.26,"y":148},{"r":"TR","x":150.26,"y":147},{"r":"TR","x":150.26,"y":146},{"r":"TR","x":150.26,"y":145},
{"r":"TR","x":150.6,"y":161},{"r":"TR","x":150.6,"y":153},{"r":"TR","x":150.6,"y":151},{"r":"TR","x":150.6,"y":149},{"r":"TR","x":150.6,"y":148},{"r":"TR","x":150.6,"y":146},{"r":"TR","x":150.6,"y":145},
{"r":"TR","x":151.57,"y":169},{"r":"TR","x":151.57,"y":168},{"r":"TR","x":151.57,"y":162},{"r":"TR","x":151.57,"y":157},{"r":"TR","x":151.57,"y":156},{"r":"TR","x":151.57,"y":152},{"r":"TR","x":151.57,"y":151},{"r":"TR","x":151.57,"y":150},{"r":"TR","x":151.57,"y":149},{"r":"TR","x":151.57,"y":148},{"r":"TR","x":151.57,"y":146},
{"r":"TR","x":152.94,"y":164},{"r":"TR","x":152.94,"y":163},{"r":"TR","x":152.94,"y":158},{"r":"TR","x":152.94,"y":154},{"r":"TR","x":152.94,"y":153},{"r":"TR","x":152.94,"y":151},{"r":"TR","x":152.94,"y":150},{"r":"TR","x":152.94,"y":149},{"r":"TR","x":152.94,"y":148},
{"r":"TR","x":154.15,"y":168},{"r":"TR","x":154.15,"y":167},{"r":"TR","x":154.15,"y":165},{"r":"TR","x":154.15,"y":163},{"r":"TR","x":154.15,"y":162},{"r":"TR","x":154.15,"y":161},{"r":"TR","x":154.15,"y":160},{"r":"TR","x":154.15,"y":159},{"r":"TR","x":154.15,"y":158},{"r":"TR","x":154.15,"y":156},{"r":"TR","x":154.15,"y":155},{"r":"TR","x":154.15,"y":152},{"r":"TR","x":154.15,"y":151},{"r":"TR","x":154.15,"y":150},{"r":"TR","x":154.15,"y":149},
{"r":"TR","x":154.65,"y":172},{"r":"TR","x":154.65,"y":168},{"r":"TR","x":154.65,"y":163},{"r":"TR","x":154.65,"y":162},{"r":"TR","x":154.65,"y":161},{"r":"TR","x":154.65,"y":160},{"r":"TR","x":154.65,"y":158},{"r":"TR","x":154.65,"y":156},{"r":"TR","x":154.65,"y":155},{"r":"TR","x":154.65,"y":152},
{"r":"TR","x":156.36,"y":177},{"r":"TR","x":156.36,"y":176},{"r":"TR","x":156.36,"y":173},{"r":"TR","x":156.36,"y":172},{"r":"TR","x":156.36,"y":169},{"r":"TR","x":156.36,"y":165},{"r":"TR","x":156.36,"y":161},{"r":"TR","x":156.36,"y":158},{"r":"TR","x":156.36,"y":157},{"r":"TR","x":156.36,"y":155},{"r":"TR","x":156.36,"y":149},{"r":"TR","x":156.36,"y":148},
{"r":"TR","x":157.16,"y":173},{"r":"TR","x":157.16,"y":170},{"r":"TR","x":157.16,"y":168},{"r":"TR","x":157.16,"y":166},{"r":"TR","x":157.16,"y":164},{"r":"TR","x":157.16,"y":162},{"r":"TR","x":157.16,"y":160},{"r":"TR","x":157.16,"y":159},{"r":"TR","x":157.16,"y":156},{"r":"TR","x":157.16,"y":155},{"r":"TR","x":157.16,"y":151},{"r":"TR","x":157.16,"y":150},
{"r":"TR","x":157.58,"y":171},{"r":"TR","x":157.58,"y":170},{"r":"TR","x":157.58,"y":164},{"r":"TR","x":157.58,"y":160},{"r":"TR","x":157.58,"y":158},{"r":"TR","x":157.58,"y":155},{"r":"TR","x":157.58,"y":152},
{"r":"TR","x":158.14,"y":170},{"r":"TR","x":158.14,"y":168},{"r":"TR","x":158.14,"y":167},{"r":"TR","x":158.14,"y":165},{"r":"TR","x":158.14,"y":163},{"r":"TR","x":158.14,"y":161},{"r":"TR","x":158.14,"y":159},{"r":"TR","x":158.14,"y":157},{"r":"TR","x":158.14,"y":155},{"r":"TR","x":158.14,"y":153},{"r":"TR","x":158.14,"y":152},
{"r":"TR","x":158.62,"y":169},{"r":"TR","x":158.62,"y":168},{"r":"TR","x":158.62,"y":164},{"r":"TR","x":158.62,"y":162},{"r":"TR","x":158.62,"y":160},{"r":"TR","x":158.62,"y":158},{"r":"TR","x":158.62,"y":156},{"r":"TR","x":158.62,"y":155},
{"r":"TR","x":159.61,"y":167},{"r":"TR","x":159.61,"y":166},{"r":"TR","x":159.61,"y":162},{"r":"TR","x":159.61,"y":161},{"r":"TR","x":159.61,"y":159},{"r":"TR","x":159.61,"y":157},{"r":"TR","x":159.61,"y":155},{"r":"TR","x":159.61,"y":154},
{"r":"TR","x":160.83,"y":173},{"r":"TR","x":160.83,"y":172},{"r":"TR","x":160.83,"y":168},{"r":"TR","x":160.83,"y":164},{"r":"TR","x":160.83,"y":161},{"r":"TR","x":160.83,"y":159},{"r":"TR","x":160.83,"y":157},{"r":"TR","x":160.83,"y":155},{"r":"TR","x":160.83,"y":153},
{"r":"TR","x":161.9,"y":179},{"r":"TR","x":161.9,"y":178},{"r":"TR","x":161.9,"y":175},{"r":"TR","x":161.9,"y":173},{"r":"TR","x":161.9,"y":171},{"r":"TR","x":161.9,"y":170},{"r":"TR","x":161.9,"y":169},{"r":"TR","x":161.9,"y":167},{"r":"TR","x":161.9,"y":165},{"r":"TR","x":161.9,"y":163},{"r":"TR","x":161.9,"y":160},{"r":"TR","x":161.9,"y":158},{"r":"TR","x":161.9,"y":156},{"r":"TR","x":161.9,"y":155},
{"r":"TR","x":165.96,"y":178},{"r":"TR","x":165.96,"y":175},{"r":"TR","x":165.96,"y":174},{"r":"TR","x":165.96,"y":173},{"r":"TR","x":165.96,"y":172},{"r":"TR","x":165.96,"y":168},{"r":"TR","x":165.96,"y":167},{"r":"TR","x":165.96,"y":165},{"r":"TR","x":165.96,"y":164},{"r":"TR","x":165.96,"y":163},{"r":"TR","x":165.96,"y":160},
{"r":"EU","x":150.26,"y":171},{"r":"EU","x":150.26,"y":169},{"r":"EU","x":150.26,"y":168},{"r":"EU","x":150.26,"y":167},{"r":"EU","x":150.26,"y":164},{"r":"EU","x":150.26,"y":163},{"r":"EU","x":150.26,"y":162},{"r":"EU","x":150.26,"y":160},{"r":"EU","x":150.26,"y":159},{"r":"EU","x":150.26,"y":158},{"r":"EU","x":150.26,"y":157},{"r":"EU","x":150.26,"y":156},{"r":"EU","x":150.26,"y":155},{"r":"EU","x":150.26,"y":154},{"r":"EU","x":150.26,"y":153},{"r":"EU","x":150.26,"y":152},{"r":"EU","x":150.26,"y":151},{"r":"EU","x":150.26,"y":150},{"r":"EU","x":150.26,"y":149},{"r":"EU","x":150.26,"y":147},{"r":"EU","x":150.26,"y":145},{"r":"EU","x":150.26,"y":144},{"r":"EU","x":150.26,"y":142},{"r":"EU","x":150.26,"y":140},{"r":"EU","x":150.26,"y":138},{"r":"EU","x":150.26,"y":137},{"r":"EU","x":150.26,"y":136},
{"r":"EU","x":150.6,"y":169},{"r":"EU","x":150.6,"y":168},{"r":"EU","x":150.6,"y":167},{"r":"EU","x":150.6,"y":165},{"r":"EU","x":150.6,"y":163},{"r":"EU","x":150.6,"y":162},{"r":"EU","x":150.6,"y":161},{"r":"EU","x":150.6,"y":160},{"r":"EU","x":150.6,"y":158},{"r":"EU","x":150.6,"y":156},{"r":"EU","x":150.6,"y":154},{"r":"EU","x":150.6,"y":152},{"r":"EU","x":150.6,"y":150},{"r":"EU","x":150.6,"y":147},{"r":"EU","x":150.6,"y":146},{"r":"EU","x":150.6,"y":144},{"r":"EU","x":150.6,"y":134},{"r":"EU","x":150.6,"y":132},
{"r":"EU","x":151.57,"y":171},{"r":"EU","x":151.57,"y":170},{"r":"EU","x":151.57,"y":168},{"r":"EU","x":151.57,"y":166},{"r":"EU","x":151.57,"y":164},{"r":"EU","x":151.57,"y":162},{"r":"EU","x":151.57,"y":160},{"r":"EU","x":151.57,"y":157},{"r":"EU","x":151.57,"y":154},{"r":"EU","x":151.57,"y":152},{"r":"EU","x":151.57,"y":151},{"r":"EU","x":151.57,"y":149},{"r":"EU","x":151.57,"y":147},{"r":"EU","x":151.57,"y":145},{"r":"EU","x":151.57,"y":144},{"r":"EU","x":151.57,"y":143},{"r":"EU","x":151.57,"y":142},{"r":"EU","x":151.57,"y":124},{"r":"EU","x":151.57,"y":123},
{"r":"EU","x":152.94,"y":174},{"r":"EU","x":152.94,"y":173},{"r":"EU","x":152.94,"y":172},{"r":"EU","x":152.94,"y":169},{"r":"EU","x":152.94,"y":166},{"r":"EU","x":152.94,"y":163},{"r":"EU","x":152.94,"y":160},{"r":"EU","x":152.94,"y":158},{"r":"EU","x":152.94,"y":156},{"r":"EU","x":152.94,"y":154},{"r":"EU","x":152.94,"y":152},{"r":"EU","x":152.94,"y":150},{"r":"EU","x":152.94,"y":148},{"r":"EU","x":152.94,"y":146},{"r":"EU","x":152.94,"y":144},{"r":"EU","x":152.94,"y":127},{"r":"EU","x":152.94,"y":126},
{"r":"EU","x":154.15,"y":173},{"r":"EU","x":154.15,"y":172},{"r":"EU","x":154.15,"y":170},{"r":"EU","x":154.15,"y":168},{"r":"EU","x":154.15,"y":166},{"r":"EU","x":154.15,"y":164},{"r":"EU","x":154.15,"y":161},{"r":"EU","x":154.15,"y":158},{"r":"EU","x":154.15,"y":156},{"r":"EU","x":154.15,"y":154},{"r":"EU","x":154.15,"y":152},{"r":"EU","x":154.15,"y":150},{"r":"EU","x":154.15,"y":148},{"r":"EU","x":154.15,"y":146},{"r":"EU","x":154.15,"y":145},{"r":"EU","x":154.15,"y":143},{"r":"EU","x":154.15,"y":142},{"r":"EU","x":154.15,"y":141},{"r":"EU","x":154.15,"y":137},{"r":"EU","x":154.15,"y":128},
{"r":"EU","x":154.65,"y":175},{"r":"EU","x":154.65,"y":174},{"r":"EU","x":154.65,"y":172},{"r":"EU","x":154.65,"y":169},{"r":"EU","x":154.65,"y":167},{"r":"EU","x":154.65,"y":165},{"r":"EU","x":154.65,"y":163},{"r":"EU","x":154.65,"y":161},{"r":"EU","x":154.65,"y":159},{"r":"EU","x":154.65,"y":157},{"r":"EU","x":154.65,"y":155},{"r":"EU","x":154.65,"y":153},{"r":"EU","x":154.65,"y":151},{"r":"EU","x":154.65,"y":149},{"r":"EU","x":154.65,"y":147},{"r":"EU","x":154.65,"y":145},{"r":"EU","x":154.65,"y":143},{"r":"EU","x":154.65,"y":136},{"r":"EU","x":154.65,"y":135},
{"r":"EU","x":156.36,"y":178},{"r":"EU","x":156.36,"y":177},{"r":"EU","x":156.36,"y":175},{"r":"EU","x":156.36,"y":173},{"r":"EU","x":156.36,"y":169},{"r":"EU","x":156.36,"y":167},{"r":"EU","x":156.36,"y":164},{"r":"EU","x":156.36,"y":161},{"r":"EU","x":156.36,"y":157},{"r":"EU","x":156.36,"y":154},{"r":"EU","x":156.36,"y":151},{"r":"EU","x":156.36,"y":148},{"r":"EU","x":156.36,"y":147},{"r":"EU","x":156.36,"y":145},{"r":"EU","x":156.36,"y":140},{"r":"EU","x":156.36,"y":132},
{"r":"EU","x":157.16,"y":175},{"r":"EU","x":157.16,"y":173},{"r":"EU","x":157.16,"y":171},{"r":"EU","x":157.16,"y":169},{"r":"EU","x":157.16,"y":167},{"r":"EU","x":157.16,"y":165},{"r":"EU","x":157.16,"y":163},{"r":"EU","x":157.16,"y":161},{"r":"EU","x":157.16,"y":159},{"r":"EU","x":157.16,"y":157},{"r":"EU","x":157.16,"y":155},{"r":"EU","x":157.16,"y":153},{"r":"EU","x":157.16,"y":151},{"r":"EU","x":157.16,"y":150},{"r":"EU","x":157.16,"y":148},{"r":"EU","x":157.16,"y":147},{"r":"EU","x":157.16,"y":138},{"r":"EU","x":157.16,"y":135},
{"r":"EU","x":157.58,"y":177},{"r":"EU","x":157.58,"y":175},{"r":"EU","x":157.58,"y":173},{"r":"EU","x":157.58,"y":171},{"r":"EU","x":157.58,"y":169},{"r":"EU","x":157.58,"y":167},{"r":"EU","x":157.58,"y":164},{"r":"EU","x":157.58,"y":160},{"r":"EU","x":157.58,"y":156},{"r":"EU","x":157.58,"y":153},{"r":"EU","x":157.58,"y":150},{"r":"EU","x":157.58,"y":146},{"r":"EU","x":157.58,"y":144},{"r":"EU","x":157.58,"y":139},
{"r":"EU","x":158.14,"y":174},{"r":"EU","x":158.14,"y":173},{"r":"EU","x":158.14,"y":172},{"r":"EU","x":158.14,"y":170},{"r":"EU","x":158.14,"y":168},{"r":"EU","x":158.14,"y":166},{"r":"EU","x":158.14,"y":164},{"r":"EU","x":158.14,"y":162},{"r":"EU","x":158.14,"y":160},{"r":"EU","x":158.14,"y":158},{"r":"EU","x":158.14,"y":156},{"r":"EU","x":158.14,"y":154},{"r":"EU","x":158.14,"y":152},{"r":"EU","x":158.14,"y":150},{"r":"EU","x":158.14,"y":149},{"r":"EU","x":158.14,"y":137},
{"r":"EU","x":158.32,"y":183},{"r":"EU","x":158.32,"y":177},{"r":"EU","x":158.32,"y":175},{"r":"EU","x":158.32,"y":173},{"r":"EU","x":158.32,"y":170},{"r":"EU","x":158.32,"y":167},{"r":"EU","x":158.32,"y":164},{"r":"EU","x":158.32,"y":161},{"r":"EU","x":158.32,"y":158},{"r":"EU","x":158.32,"y":155},{"r":"EU","x":158.32,"y":152},{"r":"EU","x":158.32,"y":149},{"r":"EU","x":158.32,"y":143},{"r":"EU","x":158.32,"y":137},{"r":"EU","x":158.32,"y":135},
{"r":"EU","x":158.62,"y":175},{"r":"EU","x":158.62,"y":173},{"r":"EU","x":158.62,"y":170},{"r":"EU","x":158.62,"y":167},{"r":"EU","x":158.62,"y":164},{"r":"EU","x":158.62,"y":161},{"r":"EU","x":158.62,"y":158},{"r":"EU","x":158.62,"y":155},{"r":"EU","x":158.62,"y":152},
{"r":"EU","x":159.61,"y":177},{"r":"EU","x":159.61,"y":176},{"r":"EU","x":159.61,"y":174},{"r":"EU","x":159.61,"y":172},{"r":"EU","x":159.61,"y":169},{"r":"EU","x":159.61,"y":166},{"r":"EU","x":159.61,"y":163},{"r":"EU","x":159.61,"y":160},{"r":"EU","x":159.61,"y":157},{"r":"EU","x":159.61,"y":154},{"r":"EU","x":159.61,"y":152},{"r":"EU","x":159.61,"y":150},{"r":"EU","x":159.61,"y":137},
{"r":"EU","x":160.83,"y":177},{"r":"EU","x":160.83,"y":175},{"r":"EU","x":160.83,"y":173},{"r":"EU","x":160.83,"y":170},{"r":"EU","x":160.83,"y":167},{"r":"EU","x":160.83,"y":164},{"r":"EU","x":160.83,"y":161},{"r":"EU","x":160.83,"y":158},{"r":"EU","x":160.83,"y":155},{"r":"EU","x":160.83,"y":153},{"r":"EU","x":160.83,"y":150},{"r":"EU","x":160.83,"y":148},{"r":"EU","x":160.83,"y":147},{"r":"EU","x":160.83,"y":142},{"r":"EU","x":160.83,"y":140},
{"r":"EU","x":161.9,"y":189},{"r":"EU","x":161.9,"y":186},{"r":"EU","x":161.9,"y":183},{"r":"EU","x":161.9,"y":180},{"r":"EU","x":161.9,"y":179},{"r":"EU","x":161.9,"y":178},{"r":"EU","x":161.9,"y":177},{"r":"EU","x":161.9,"y":176},{"r":"EU","x":161.9,"y":175},{"r":"EU","x":161.9,"y":174},{"r":"EU","x":161.9,"y":173},{"r":"EU","x":161.9,"y":172},{"r":"EU","x":161.9,"y":170},{"r":"EU","x":161.9,"y":168},{"r":"EU","x":161.9,"y":166},{"r":"EU","x":161.9,"y":163},{"r":"EU","x":161.9,"y":160},{"r":"EU","x":161.9,"y":157},{"r":"EU","x":161.9,"y":154},{"r":"EU","x":161.9,"y":152},{"r":"EU","x":161.9,"y":150},{"r":"EU","x":161.9,"y":147},{"r":"EU","x":161.9,"y":139},{"r":"EU","x":161.9,"y":137},
{"r":"EU","x":162.05,"y":180},{"r":"EU","x":162.05,"y":178},{"r":"EU","x":162.05,"y":176},{"r":"EU","x":162.05,"y":174},{"r":"EU","x":162.05,"y":172},{"r":"EU","x":162.05,"y":169},{"r":"EU","x":162.05,"y":166},{"r":"EU","x":162.05,"y":163},{"r":"EU","x":162.05,"y":160},{"r":"EU","x":162.05,"y":156},{"r":"EU","x":162.05,"y":153},{"r":"EU","x":162.05,"y":142},{"r":"EU","x":162.05,"y":140},
{"r":"EU","x":165.96,"y":187},{"r":"EU","x":165.96,"y":185},{"r":"EU","x":165.96,"y":184},{"r":"EU","x":165.96,"y":179},{"r":"EU","x":165.96,"y":178},{"r":"EU","x":165.96,"y":176},{"r":"EU","x":165.96,"y":174},{"r":"EU","x":165.96,"y":172},{"r":"EU","x":165.96,"y":170},{"r":"EU","x":165.96,"y":168},{"r":"EU","x":165.96,"y":166},{"r":"EU","x":165.96,"y":164},{"r":"EU","x":165.96,"y":162},{"r":"EU","x":165.96,"y":160},{"r":"EU","x":165.96,"y":157},{"r":"EU","x":165.96,"y":156},{"r":"EU","x":165.96,"y":152},{"r":"EU","x":165.96,"y":151},
{"r":"NA","x":150.26,"x2":165.96,"y":163.8,"y2":175.9},{"r":"NA","x":150.26,"x2":165.96,"y":150.9,"y2":174.1},{"r":"NA","x":150.26,"x2":165.96,"y":148.7,"y2":167.2},
{"r":"NF","x":150.26,"x2":165.96,"y":155.4,"y2":169.1},{"r":"NF","x":150.26,"x2":165.96,"y":153.2,"y2":168.0},{"r":"NF","x":150.26,"x2":165.96,"y":152.7,"y2":167.7},{"r":"NF","x":150.26,"x2":165.96,"y":149.9,"y2":164.1},{"r":"NF","x":150.26,"x2":165.96,"y":146.8,"y2":162.8},{"r":"NF","x":150.26,"x2":165.96,"y":145.9,"y2":162.1},{"r":"NF","x":150.26,"x2":165.96,"y":145.1,"y2":160.1},{"r":"NF","x":150.26,"x2":165.96,"y":144.8,"y2":159.3},{"r":"NF","x":150.26,"x2":165.96,"y":144.2,"y2":158.6},
{"r":"KP","x":150.26,"x2":165.96,"y":161.1,"y2":173.9},{"r":"KP","x":150.26,"x2":165.96,"y":160.6,"y2":173.4},{"r":"KP","x":150.26,"x2":165.96,"y":160.1,"y2":172.9},{"r":"KP","x":150.26,"x2":165.96,"y":159.7,"y2":172.6},{"r":"KP","x":150.26,"x2":165.96,"y":159.2,"y2":172.2},{"r":"KP","x":150.26,"x2":165.96,"y":158.7,"y2":171.8},{"r":"KP","x":150.26,"x2":165.96,"y":158.2,"y2":171.3},{"r":"KP","x":150.26,"x2":165.96,"y":157.8,"y2":171.0},{"r":"KP","x":150.26,"x2":165.96,"y":157.3,"y2":170.7},{"r":"KP","x":150.26,"x2":165.96,"y":156.8,"y2":170.3},{"r":"KP","x":150.26,"x2":165.96,"y":156.3,"y2":169.9},{"r":"KP","x":150.26,"x2":165.96,"y":155.9,"y2":169.4},{"r":"KP","x":150.26,"x2":165.96,"y":155.4,"y2":168.9},{"r":"KP","x":150.26,"x2":165.96,"y":154.9,"y2":168.5},{"r":"KP","x":150.26,"x2":165.96,"y":154.4,"y2":168.2},{"r":"KP","x":150.26,"x2":165.96,"y":153.6,"y2":167.7},{"r":"KP","x":150.26,"x2":165.96,"y":153.0,"y2":167.2},{"r":"KP","x":150.26,"x2":165.96,"y":152.1,"y2":166.6},{"r":"KP","x":150.26,"x2":165.96,"y":151.1,"y2":165.8},{"r":"KP","x":150.26,"x2":165.96,"y":149.5,"y2":165.0},{"r":"KP","x":150.26,"x2":165.96,"y":148.0,"y2":164.1},{"r":"KP","x":150.26,"x2":165.96,"y":144.8,"y2":160.4},{"r":"KP","x":150.26,"x2":165.96,"y":143.7,"y2":159.3},
{"r":"ET","x":150.26,"x2":165.96,"y":156.5,"y2":177.7},{"r":"ET","x":150.26,"x2":165.96,"y":154.9,"y2":176.5},{"r":"ET","x":150.26,"x2":165.96,"y":154.3,"y2":176.1},{"r":"ET","x":150.26,"x2":165.96,"y":153.6,"y2":172.9},{"r":"ET","x":150.26,"x2":165.96,"y":153.3,"y2":172.6},{"r":"ET","x":150.26,"x2":165.96,"y":153.0,"y2":172.2},{"r":"ET","x":150.26,"x2":165.96,"y":152.6,"y2":171.7},{"r":"ET","x":150.26,"x2":165.96,"y":152.3,"y2":171.2},{"r":"ET","x":150.26,"x2":165.96,"y":151.9,"y2":170.7},{"r":"ET","x":150.26,"x2":165.96,"y":151.6,"y2":170.1},{"r":"ET","x":150.26,"x2":165.96,"y":151.2,"y2":169.4},{"r":"ET","x":150.26,"x2":165.96,"y":150.9,"y2":168.9},{"r":"ET","x":150.26,"x2":165.96,"y":150.6,"y2":168.5},{"r":"ET","x":150.26,"x2":165.96,"y":150.2,"y2":168.1},{"r":"ET","x":150.26,"x2":165.96,"y":149.7,"y2":167.6},{"r":"ET","x":150.26,"x2":165.96,"y":149.2,"y2":167.0},{"r":"ET","x":150.26,"x2":165.96,"y":148.7,"y2":166.6},{"r":"ET","x":150.26,"x2":165.96,"y":148.3,"y2":166.2},{"r":"ET","x":150.26,"x2":165.96,"y":147.8,"y2":165.7},{"r":"ET","x":150.26,"x2":165.96,"y":147.3,"y2":165.0},{"r":"ET","x":150.26,"x2":165.96,"y":146.8,"y2":164.4},{"r":"ET","x":150.26,"x2":165.96,"y":146.4,"y2":163.8},{"r":"ET","x":150.26,"x2":165.96,"y":145.9,"y2":163.1},{"r":"ET","x":150.26,"x2":165.96,"y":145.4,"y2":162.5},{"r":"ET","x":150.26,"x2":165.96,"y":144.9,"y2":161.9},{"r":"ET","x":150.26,"x2":165.96,"y":144.5,"y2":161.2},{"r":"ET","x":150.26,"x2":165.96,"y":143.9,"y2":160.3},{"r":"ET","x":150.26,"x2":165.96,"y":143.2,"y2":159.7},{"r":"ET","x":150.26,"x2":165.96,"y":142.6,"y2":159.3},{"r":"ET","x":150.26,"x2":165.96,"y":142.0,"y2":157.1},{"r":"ET","x":150.26,"x2":165.96,"y":141.3,"y2":156.5},{"r":"ET","x":150.26,"x2":165.96,"y":141.0,"y2":155.2},
{"r":"SW","x":150.26,"x2":165.96,"y":162.2,"y2":175.8},{"r":"SW","x":150.26,"x2":165.96,"y":160.3,"y2":174.8},{"r":"SW","x":150.26,"x2":165.96,"y":155.9,"y2":173.4},{"r":"SW","x":150.26,"x2":165.96,"y":154.9,"y2":172.1},{"r":"SW","x":150.26,"x2":165.96,"y":154.0,"y2":171.5},{"r":"SW","x":150.26,"x2":165.96,"y":153.0,"y2":171.0},{"r":"SW","x":150.26,"x2":165.96,"y":152.1,"y2":170.2},{"r":"SW","x":150.26,"x2":165.96,"y":151.6,"y2":169.1},{"r":"SW","x":150.26,"x2":165.96,"y":151.1,"y2":168.2},{"r":"SW","x":150.26,"x2":165.96,"y":150.2,"y2":167.2},{"r":"SW","x":150.26,"x2":165.96,"y":149.2,"y2":166.3},{"r":"SW","x":150.26,"x2":165.96,"y":148.7,"y2":165.6},{"r":"SW","x":150.26,"x2":165.96,"y":148.3,"y2":165.1},{"r":"SW","x":150.26,"x2":165.96,"y":148.0,"y2":164.7},{"r":"SW","x":150.26,"x2":165.96,"y":147.6,"y2":164.3},{"r":"SW","x":150.26,"x2":165.96,"y":147.3,"y2":163.9},{"r":"SW","x":150.26,"x2":165.96,"y":147.0,"y2":163.4},{"r":"SW","x":150.26,"x2":165.96,"y":146.7,"y2":163.1},{"r":"SW","x":150.26,"x2":165.96,"y":146.4,"y2":162.6},{"r":"SW","x":150.26,"x2":165.96,"y":146.1,"y2":162.2},{"r":"SW","x":150.26,"x2":165.96,"y":145.8,"y2":161.7},{"r":"SW","x":150.26,"x2":165.96,"y":145.4,"y2":161.4},{"r":"SW","x":150.26,"x2":165.96,"y":144.9,"y2":160.7},{"r":"SW","x":150.26,"x2":165.96,"y":144.5,"y2":160.1},{"r":"SW","x":150.26,"x2":165.96,"y":144.0,"y2":159.3},{"r":"SW","x":150.26,"x2":165.96,"y":143.2,"y2":158.6},{"r":"SW","x":150.26,"x2":165.96,"y":141.3,"y2":156.8},{"r":"SW","x":150.26,"x2":165.96,"y":140.4,"y2":155.9},{"r":"SW","x":150.26,"x2":165.96,"y":139.7,"y2":154.9},{"r":"SW","x":150.26,"x2":165.96,"y":138.8,"y2":153.3},
{"r":"JP","x":150.26,"x2":165.96,"y":163.1,"y2":173.4},{"r":"JP","x":150.26,"x2":165.96,"y":157.3,"y2":170.0},{"r":"JP","x":150.26,"x2":165.96,"y":156.9,"y2":169.1},{"r":"JP","x":150.26,"x2":165.96,"y":155.9,"y2":168.4},{"r":"JP","x":150.26,"x2":165.96,"y":155.0,"y2":167.8},{"r":"JP","x":150.26,"x2":165.96,"y":154.0,"y2":167.2},{"r":"JP","x":150.26,"x2":165.96,"y":153.0,"y2":166.3},{"r":"JP","x":150.26,"x2":165.96,"y":152.2,"y2":165.9},{"r":"JP","x":150.26,"x2":165.96,"y":151.4,"y2":165.0},{"r":"JP","x":150.26,"x2":165.96,"y":150.7,"y2":164.4},{"r":"JP","x":150.26,"x2":165.96,"y":149.8,"y2":163.6},{"r":"JP","x":150.26,"x2":165.96,"y":149.0,"y2":163.0},{"r":"JP","x":150.26,"x2":165.96,"y":148.2,"y2":162.3},{"r":"JP","x":150.26,"x2":165.96,"y":147.3,"y2":161.4},{"r":"JP","x":150.26,"x2":165.96,"y":146.3,"y2":160.4},{"r":"JP","x":150.26,"x2":165.96,"y":145.3,"y2":157.9},{"r":"JP","x":150.26,"x2":165.96,"y":141.5,"y2":153.7},{"r":"JP","x":150.26,"x2":165.96,"y":140.8,"y2":152.7},{"r":"JP","x":150.26,"x2":165.96,"y":140.5,"y2":152.1},{"r":"JP","x":150.26,"x2":165.96,"y":138.6,"y2":147.3},{"r":"JP","x":150.26,"x2":165.96,"y":136.7,"y2":144.7},{"r":"JP","x":150.26,"x2":165.96,"y":135.1,"y2":144.4},{"r":"JP","x":150.26,"x2":165.96,"y":129.3,"y2":147.3},
{"r":"CN","x":150.26,"x2":165.96,"y":155.3,"y2":172.6},{"r":"CN","x":150.26,"x2":165.96,"y":153.0,"y2":169.4},{"r":"CN","x":150.26,"x2":165.96,"y":152.7,"y2":169.1},{"r":"CN","x":150.26,"x2":165.96,"y":151.5,"y2":168.3},{"r":"CN","x":150.26,"x2":165.96,"y":149.4,"y2":165.3},{"r":"CN","x":150.26,"x2":165.96,"y":148.9,"y2":165.0},{"r":"CN","x":150.26,"x2":165.96,"y":148.6,"y2":164.5},{"r":"CN","x":150.26,"x2":165.96,"y":148.2,"y2":163.7},{"r":"CN","x":150.26,"x2":165.96,"y":147.7,"y2":163.0},{"r":"CN","x":150.26,"x2":165.96,"y":147.3,"y2":161.6},{"r":"CN","x":150.26,"x2":165.96,"y":147.0,"y2":161.1},{"r":"CN","x":150.26,"x2":165.96,"y":146.6,"y2":160.5},{"r":"CN","x":150.26,"x2":165.96,"y":143.2,"y2":158.5},{"r":"CN","x":150.26,"x2":165.96,"y":138.9,"y2":151.9},{"r":"CN","x":150.26,"x2":165.96,"y":138.3,"y2":151.1},{"r":"CN","x":150.26,"x2":165.96,"y":137.7,"y2":150.3},{"r":"CN","x":150.26,"x2":165.96,"y":137.0,"y2":149.8},{"r":"CN","x":150.26,"x2":165.96,"y":136.6,"y2":149.4},{"r":"CN","x":150.26,"x2":165.96,"y":135.9,"y2":149.0},
{"r":"NP","x":150.26,"x2":165.96,"y":153.1,"y2":169.1},{"r":"NP","x":150.26,"x2":165.96,"y":150.1,"y2":168.5},{"r":"NP","x":150.26,"x2":165.96,"y":149.6,"y2":167.8},{"r":"NP","x":150.26,"x2":165.96,"y":148.0,"y2":167.2},{"r":"NP","x":150.26,"x2":165.96,"y":147.6,"y2":164.0},{"r":"NP","x":150.26,"x2":165.96,"y":147.0,"y2":163.2},{"r":"NP","x":150.26,"x2":165.96,"y":146.7,"y2":162.1},{"r":"NP","x":150.26,"x2":165.96,"y":146.4,"y2":161.6},{"r":"NP","x":150.26,"x2":165.96,"y":146.1,"y2":161.1},{"r":"NP","x":150.26,"x2":165.96,"y":145.8,"y2":160.5},{"r":"NP","x":150.26,"x2":165.96,"y":144.5,"y2":159.8},{"r":"NP","x":150.26,"x2":165.96,"y":144.0,"y2":158.9},{"r":"NP","x":150.26,"x2":165.96,"y":143.5,"y2":157.9},{"r":"NP","x":150.26,"x2":165.96,"y":142.9,"y2":157.0},{"r":"NP","x":150.26,"x2":165.96,"y":142.3,"y2":156.0},{"r":"NP","x":150.26,"x2":165.96,"y":141.6,"y2":155.4},{"r":"NP","x":150.26,"x2":165.96,"y":141.2,"y2":154.9},{"r":"NP","x":150.26,"x2":165.96,"y":140.4,"y2":152.8},{"r":"NP","x":150.26,"x2":165.96,"y":140.0,"y2":152.7},
{"r":"TR","x":150.26,"x2":165.96,"y":163.1,"y2":177.0},{"r":"TR","x":150.26,"x2":165.96,"y":162.3,"y2":176.0},{"r":"TR","x":150.26,"x2":165.96,"y":156.3,"y2":172.3},{"r":"TR","x":150.26,"x2":165.96,"y":155.0,"y2":170.4},{"r":"TR","x":150.26,"x2":165.96,"y":154.4,"y2":168.1},{"r":"TR","x":150.26,"x2":165.96,"y":153.4,"y2":166.5},{"r":"TR","x":150.26,"x2":165.96,"y":152.7,"y2":166.2},{"r":"TR","x":150.26,"x2":165.96,"y":150.6,"y2":164.6},{"r":"TR","x":150.26,"x2":165.96,"y":149.6,"y2":163.9},{"r":"TR","x":150.26,"x2":165.96,"y":148.6,"y2":163.1},{"r":"TR","x":150.26,"x2":165.96,"y":147.3,"y2":162.3},{"r":"TR","x":150.26,"x2":165.96,"y":146.7,"y2":161.4},{"r":"TR","x":150.26,"x2":165.96,"y":146.0,"y2":160.4},{"r":"TR","x":150.26,"x2":165.96,"y":145.4,"y2":159.8},
{"r":"EU","x":150.26,"x2":165.96,"y":169.4,"y2":184.3},{"r":"EU","x":150.26,"x2":165.96,"y":168.4,"y2":183.9},{"r":"EU","x":150.26,"x2":165.96,"y":167.5,"y2":182.1},{"r":"EU","x":150.26,"x2":165.96,"y":166.2,"y2":179.4},{"r":"EU","x":150.26,"x2":165.96,"y":165.4,"y2":178.7},{"r":"EU","x":150.26,"x2":165.96,"y":164.6,"y2":178.1},{"r":"EU","x":150.26,"x2":165.96,"y":163.6,"y2":177.5},{"r":"EU","x":150.26,"x2":165.96,"y":162.9,"y2":177.0},{"r":"EU","x":150.26,"x2":165.96,"y":162.0,"y2":176.5},{"r":"EU","x":150.26,"x2":165.96,"y":161.2,"y2":176.0},{"r":"EU","x":150.26,"x2":165.96,"y":160.6,"y2":175.5},{"r":"EU","x":150.26,"x2":165.96,"y":159.9,"y2":175.1},{"r":"EU","x":150.26,"x2":165.96,"y":159.3,"y2":174.7},{"r":"EU","x":150.26,"x2":165.96,"y":158.6,"y2":174.2},{"r":"EU","x":150.26,"x2":165.96,"y":158.0,"y2":173.8},{"r":"EU","x":150.26,"x2":165.96,"y":157.4,"y2":173.3},{"r":"EU","x":150.26,"x2":165.96,"y":156.7,"y2":172.8},{"r":"EU","x":150.26,"x2":165.96,"y":156.1,"y2":172.3},{"r":"EU","x":150.26,"x2":165.96,"y":155.4,"y2":171.8},{"r":"EU","x":150.26,"x2":165.96,"y":154.8,"y2":171.3},{"r":"EU","x":150.26,"x2":165.96,"y":154.1,"y2":170.8},{"r":"EU","x":150.26,"x2":165.96,"y":153.5,"y2":170.4},{"r":"EU","x":150.26,"x2":165.96,"y":152.9,"y2":169.9},{"r":"EU","x":150.26,"x2":165.96,"y":152.2,"y2":169.4},{"r":"EU","x":150.26,"x2":165.96,"y":151.6,"y2":168.9},{"r":"EU","x":150.26,"x2":165.96,"y":150.9,"y2":168.4},{"r":"EU","x":150.26,"x2":165.96,"y":150.3,"y2":168.0},{"r":"EU","x":150.26,"x2":165.96,"y":149.6,"y2":167.5},{"r":"EU","x":150.26,"x2":165.96,"y":149.0,"y2":166.8},{"r":"EU","x":150.26,"x2":165.96,"y":148.2,"y2":166.2},{"r":"EU","x":150.26,"x2":165.96,"y":147.6,"y2":165.7},{"r":"EU","x":150.26,"x2":165.96,"y":146.9,"y2":165.2},{"r":"EU","x":150.26,"x2":165.96,"y":146.3,"y2":164.6},{"r":"EU","x":150.26,"x2":165.96,"y":145.7,"y2":163.6},{"r":"EU","x":150.26,"x2":165.96,"y":145.0,"y2":162.7},{"r":"EU","x":150.26,"x2":165.96,"y":144.4,"y2":161.7},{"r":"EU","x":150.26,"x2":165.96,"y":143.7,"y2":160.4},{"r":"EU","x":150.26,"x2":165.96,"y":142.8,"y2":159.8},{"r":"EU","x":150.26,"x2":165.96,"y":142.1,"y2":158.5},{"r":"EU","x":150.26,"x2":165.96,"y":141.2,"y2":157.2},{"r":"EU","x":150.26,"x2":165.96,"y":140.2,"y2":156.3},{"r":"EU","x":150.26,"x2":165.96,"y":139.2,"y2":155.9},{"r":"EU","x":150.26,"x2":165.96,"y":132.2,"y2":150.2},{"r":"EU","x":150.26,"x2":165.96,"y":130.6,"y2":148.9}
]},
"spacing":3,
"vconcat":[
{"spacing":0,"vconcat":[
 {"data":{"name":"s"},"transform":[{"filter":{"field":"r","oneOf":["NA","NF","KP","ET","SW"]}}],
  "facet":{"column":{"field":"r","type":"nominal","sort":["NA","NF","KP","ET","SW"],"header":null}},
  "spacing":14,
  "spec":{"width":318,"height":49,"view":{"fill":"#d9d9d9","stroke":null},
   "mark":{"type":"text","fontSize":25,"font":"Liberation Sans","color":"#1a1a1a","baseline":"middle","align":"center","dy":1},
   "encoding":{"text":{"field":"n","type":"nominal"}}}},
 {"data":{"name":"d"},"transform":[{"filter":{"field":"r","oneOf":["NA","NF","KP","ET","SW"]}}],
  "facet":{"column":{"field":"r","type":"nominal","sort":["NA","NF","KP","ET","SW"],"header":null}},
  "spacing":14,
  "spec":{"width":318,"height":381,"view":{"fill":"white","stroke":"#1a1a1a","strokeWidth":1.7},
   "encoding":{
    "x":{"field":"x","type":"quantitative","scale":{"domain":[149.51,166.73],"nice":false,"zero":false},"axis":null},
    "y":{"field":"y","type":"quantitative","scale":{"domain":[119.7,192.3],"nice":false,"zero":false},"axis":{"values":[120,140,160,180],"title":null}}},
   "layer":[
    {"transform":[{"filter":"datum.y2 == null"}],"mark":{"type":"circle","size":11,"color":"#000000","opacity":1}},
    {"transform":[{"filter":"datum.y2 != null"}],"mark":{"type":"rule","strokeWidth":1.6},
     "encoding":{"x2":{"field":"x2"},"y2":{"field":"y2"},
      "color":{"field":"r","type":"nominal","legend":null,"scale":{"domain":["NA","NF","KP","ET","SW","JP","CN","NP","TR","EU"],"range":["#A9CCE6","#F0D535","#F9ABB1","#FF7F00","#33A02C","#F8D3DF","#FA5858","#E31A1C","#FDBF86","#4169E1"]}}}}
   ]}}
]},
{"spacing":0,
 "title":{"text":"Average days to heading per season","orient":"bottom","anchor":"middle","frame":"bounds","fontSize":29,"fontWeight":"normal","font":"Liberation Sans","color":"#1a1a1a","offset":9,"dx":15},
 "vconcat":[
 {"data":{"name":"s"},"transform":[{"filter":{"field":"r","oneOf":["JP","CN","NP","TR","EU"]}}],
  "facet":{"column":{"field":"r","type":"nominal","sort":["JP","CN","NP","TR","EU"],"header":null}},
  "spacing":14,
  "spec":{"width":318,"height":49,"view":{"fill":"#d9d9d9","stroke":null},
   "mark":{"type":"text","fontSize":25,"font":"Liberation Sans","color":"#1a1a1a","baseline":"middle","align":"center","dy":1},
   "encoding":{"text":{"field":"n","type":"nominal"}}}},
 {"data":{"name":"d"},"transform":[{"filter":{"field":"r","oneOf":["JP","CN","NP","TR","EU"]}}],
  "facet":{"column":{"field":"r","type":"nominal","sort":["JP","CN","NP","TR","EU"],"header":null}},
  "spacing":14,
  "spec":{"width":318,"height":381,"view":{"fill":"white","stroke":"#1a1a1a","strokeWidth":1.7},
   "encoding":{
    "x":{"field":"x","type":"quantitative","scale":{"domain":[149.51,166.73],"nice":false,"zero":false},"axis":{"values":[150,155,160,165],"title":null,"labelFlush":false,"labelOverlap":false}},
    "y":{"field":"y","type":"quantitative","scale":{"domain":[119.7,192.3],"nice":false,"zero":false},"axis":{"values":[120,140,160,180],"title":null}}},
   "layer":[
    {"transform":[{"filter":"datum.y2 == null"}],"mark":{"type":"circle","size":11,"color":"#000000","opacity":1}},
    {"transform":[{"filter":"datum.y2 != null"}],"mark":{"type":"rule","strokeWidth":1.6},
     "encoding":{"x2":{"field":"x2"},"y2":{"field":"y2"},
      "color":{"field":"r","type":"nominal","legend":null,"scale":{"domain":["NA","NF","KP","ET","SW","JP","CN","NP","TR","EU"],"range":["#A9CCE6","#F0D535","#F9ABB1","#FF7F00","#33A02C","#F8D3DF","#FA5858","#E31A1C","#FDBF86","#4169E1"]}}}}
   ]}}
]}
],
"config":{
 "font":"Liberation Sans",
 "view":{"stroke":null},
 "axis":{"grid":false,"domain":false,"ticks":true,"tickSize":12,"tickWidth":2.8,"tickColor":"#1a1a1a","labelFontSize":31,"labelColor":"#1a1a1a","labelFont":"Liberation Sans","labelPadding":4}
}
}
